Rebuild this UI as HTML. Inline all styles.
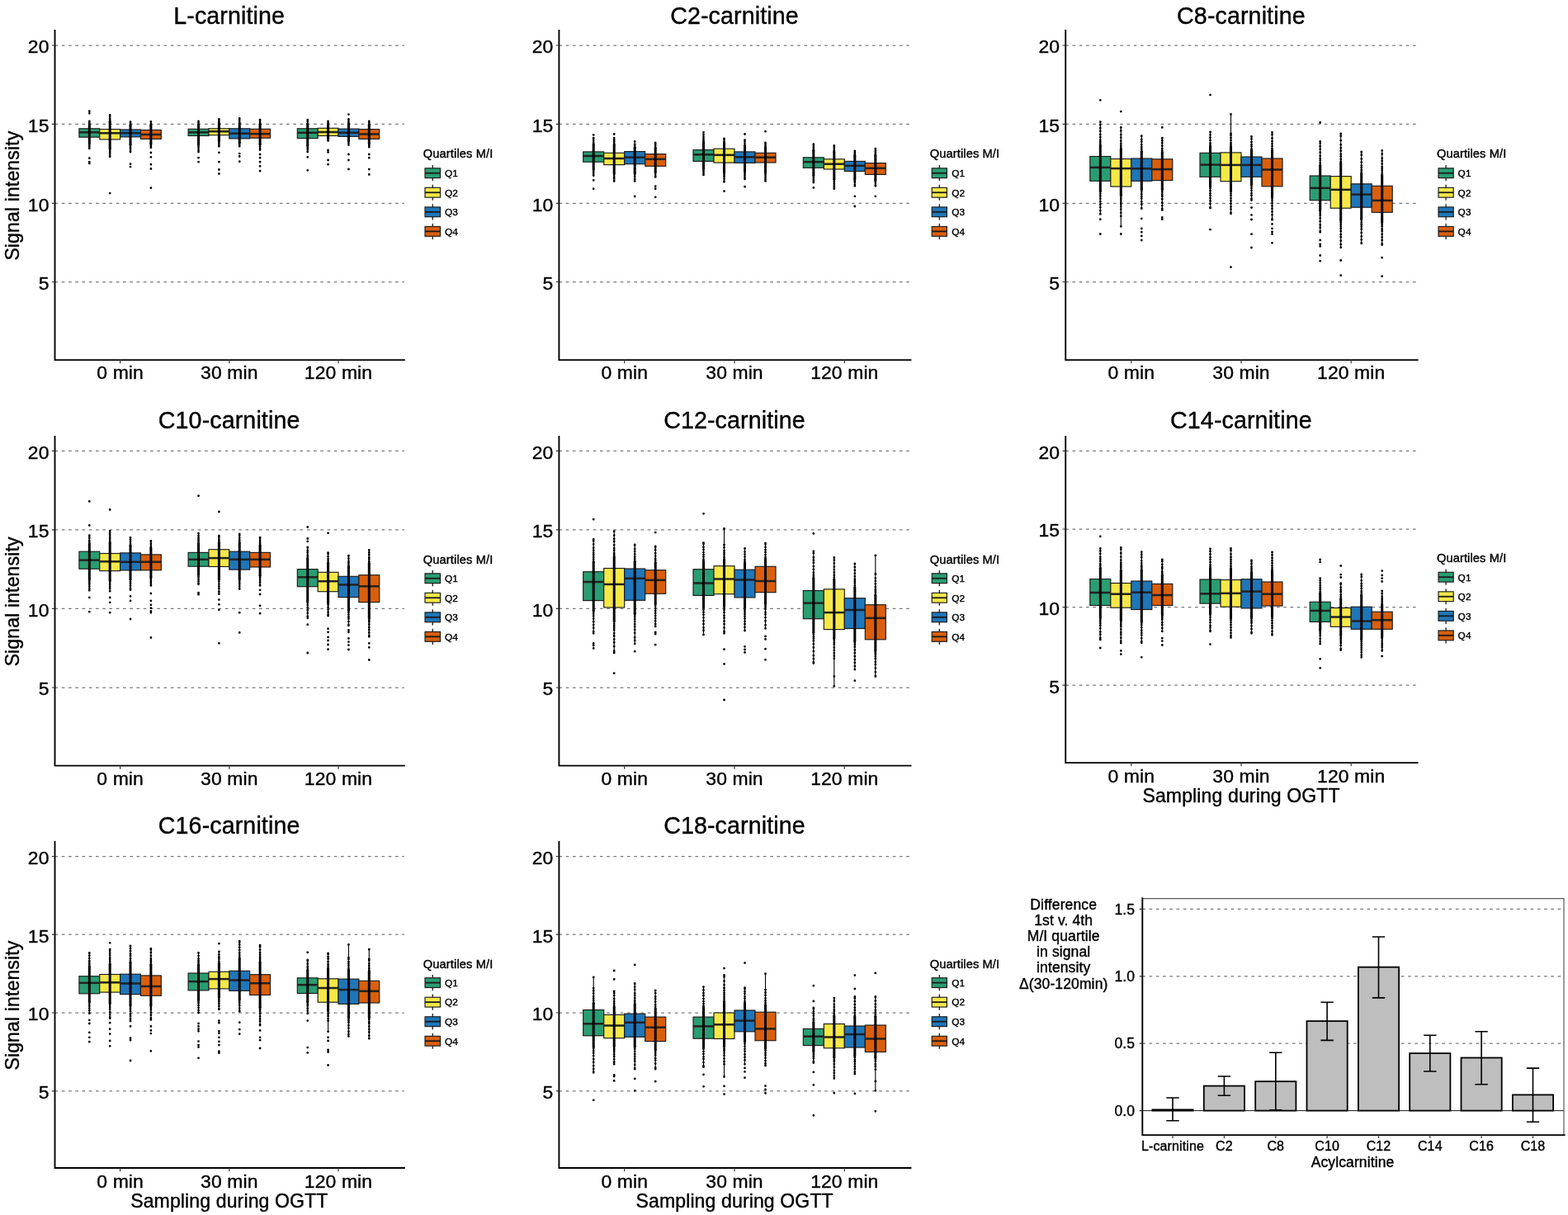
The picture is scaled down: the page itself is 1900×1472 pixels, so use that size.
<!DOCTYPE html>
<html lang="en">
<head>
<meta charset="utf-8">
<title>Acylcarnitine signal intensity during OGTT by M/I quartile</title>
<style>
html,body{margin:0;padding:0;background:#fff;}
body{width:1900px;height:1472px;overflow:hidden;}
svg{display:block;font-family:'Liberation Sans', Arial, Helvetica, sans-serif;fill:#000;}
text{stroke:#000;stroke-width:0.4px;stroke-linejoin:round;letter-spacing:0.12px;}
.grid{stroke:#7a7a7a;stroke-width:1.25;stroke-dasharray:3.7 4.55;fill:none;}
.axis{stroke:#000;stroke-width:1.9;fill:none;stroke-linecap:square;}
.tick{stroke:#333;stroke-width:1.2;fill:none;}
.bx{stroke:#1a1a1a;stroke-width:1.15;}
.md{stroke:#222;stroke-width:2.5;fill:none;}
.wh{stroke:#000;stroke-width:1.1;fill:none;}
.core{stroke:#000;fill:none;stroke-linecap:round;}
.dot{stroke:#000;stroke-width:2.8;fill:none;stroke-linecap:round;}
.kw{stroke:#1a1a1a;stroke-width:1.3;fill:none;}
.km{stroke:#1a1a1a;stroke-width:1.8;fill:none;}
.bar{fill:#bebebe;stroke:#000;stroke-width:1.8;}
.err{stroke:#000;stroke-width:1.6;fill:none;}
.zero{stroke:#000;stroke-width:0.9;fill:none;}
.frame{stroke:#5a5a5a;stroke-width:1.2;fill:none;}
</style>
</head>
<body>
<svg role="img" aria-label="Boxplots of acylcarnitine signal intensity during OGTT by quartiles of M/I, with bar chart of quartile differences" width="1900" height="1472" viewBox="0 0 1900 1472">
<rect width="1900" height="1472" fill="#fff"/>
<g>
<path d="M66.5 55H489.8M66.5 150.4H489.8M66.5 246.3H489.8M66.5 341.5H489.8" class="grid"/>
<rect x="95.9" y="155.8" width="24.85" height="10.4" fill="#2a9d73" class="bx"/>
<path d="M95.9 160.3H120.75" class="md"/>
<path d="M108.32 146.7V180" class="wh"/>
<path d="M108.32 150.75V173.6" class="core" stroke-width="3"/>
<path d="M108.32 150.75h0M108.32 148.76h0M108.32 146.9h0M108.32 173.6h0M108.32 175.9h0M108.32 177.8h0M108.32 179.8h0M108.32 134.7h0M108.32 137.3h0M108.32 191.7h0M108.32 196.2h0M108.32 197.9h0" class="dot"/>
<rect x="120.75" y="156.6" width="24.85" height="12.3" fill="#f6e848" class="bx"/>
<path d="M120.75 161.3H145.6" class="md"/>
<path d="M133.18 139.1V190" class="wh"/>
<path d="M133.18 147.35V179.95" class="core" stroke-width="3"/>
<path d="M133.18 147.35h0M133.18 145.32h0M133.18 143.43h0M133.18 140.87h0M133.18 139.3h0M133.18 179.95h0M133.18 182.04h0M133.18 183.94h0M133.18 186.04h0M133.18 188.74h0M133.18 189.8h0M133.18 234.1h0" class="dot"/>
<rect x="145.6" y="157" width="24.85" height="8.9" fill="#1f76b8" class="bx"/>
<path d="M145.6 161.2H170.45" class="md"/>
<path d="M158.03 147.5V184.3" class="wh"/>
<path d="M158.03 151.75V175.6" class="core" stroke-width="3"/>
<path d="M158.03 151.75h0M158.03 149.95h0M158.03 147.89h0M158.03 147.7h0M158.03 175.6h0M158.03 178.18h0M158.03 180.6h0M158.03 183.04h0M158.03 184.1h0M158.03 198.7h0M158.03 202.1h0" class="dot"/>
<rect x="170.45" y="157.5" width="24.85" height="10.9" fill="#d95f0c" class="bx"/>
<path d="M170.45 163H195.3" class="md"/>
<path d="M182.88 147.2V179" class="wh"/>
<path d="M182.88 151.85V174.2" class="core" stroke-width="3"/>
<path d="M182.88 151.85h0M182.88 150.13h0M182.88 147.41h0M182.88 147.4h0M182.88 174.2h0M182.88 176.02h0M182.88 177.97h0M182.88 178.8h0M182.88 185h0M182.88 190.3h0M182.88 199.2h0M182.88 204.5h0M182.88 227.7h0" class="dot"/>
<rect x="228.1" y="156.3" width="24.85" height="8.2" fill="#2a9d73" class="bx"/>
<path d="M228.1 160.3H252.95" class="md"/>
<path d="M240.53 146.7V184.3" class="wh"/>
<path d="M240.53 151V174.9" class="core" stroke-width="3"/>
<path d="M240.53 151h0M240.53 148.55h0M240.53 146.9h0M240.53 174.9h0M240.53 177.13h0M240.53 179.62h0M240.53 182.03h0M240.53 184.1h0M240.53 191.2h0M240.53 196.2h0" class="dot"/>
<rect x="252.95" y="155.8" width="24.85" height="7.9" fill="#f6e848" class="bx"/>
<path d="M252.95 159.2H277.8" class="md"/>
<path d="M265.38 144.2V177.5" class="wh"/>
<path d="M265.38 149.5V171.1" class="core" stroke-width="3"/>
<path d="M265.38 149.5h0M265.38 147.76h0M265.38 145.87h0M265.38 144.4h0M265.38 171.1h0M265.38 173.42h0M265.38 175.69h0M265.38 177.3h0M265.38 184.8h0M265.38 196.2h0M265.38 205.5h0M265.38 210.5h0" class="dot"/>
<rect x="277.8" y="155.8" width="24.85" height="12.1" fill="#1f76b8" class="bx"/>
<path d="M277.8 161.7H302.65" class="md"/>
<path d="M290.23 143.3V177.5" class="wh"/>
<path d="M290.23 149.05V173.2" class="core" stroke-width="3"/>
<path d="M290.23 149.05h0M290.23 146.82h0M290.23 144.52h0M290.23 143.5h0M290.23 173.2h0M290.23 175.63h0M290.23 177.3h0M290.23 186.1h0M290.23 189.5h0M290.23 195.7h0" class="dot"/>
<rect x="302.65" y="156.3" width="24.85" height="10.9" fill="#d95f0c" class="bx"/>
<path d="M302.65 162.2H327.5" class="md"/>
<path d="M315.08 145V181.7" class="wh"/>
<path d="M315.08 150.15V174.95" class="core" stroke-width="3"/>
<path d="M315.08 150.15h0M315.08 148.24h0M315.08 145.82h0M315.08 145.2h0M315.08 174.95h0M315.08 177.46h0M315.08 180.04h0M315.08 181.5h0M315.08 187h0M315.08 191.2h0M315.08 196.2h0M315.08 201.3h0M315.08 207.2h0" class="dot"/>
<rect x="360.3" y="155.8" width="24.85" height="11.8" fill="#2a9d73" class="bx"/>
<path d="M360.3 160.8H385.15" class="md"/>
<path d="M372.73 145V184.3" class="wh"/>
<path d="M372.73 149.9V176.45" class="core" stroke-width="3"/>
<path d="M372.73 149.9h0M372.73 147.29h0M372.73 145.34h0M372.73 145.2h0M372.73 176.45h0M372.73 178.85h0M372.73 180.83h0M372.73 183.38h0M372.73 184.1h0M372.73 190.3h0M372.73 206.3h0" class="dot"/>
<rect x="385.15" y="155.3" width="24.85" height="9.2" fill="#f6e848" class="bx"/>
<path d="M385.15 160H410" class="md"/>
<path d="M397.57 146.7V170.8" class="wh"/>
<path d="M397.57 150.5V168.15" class="core" stroke-width="3"/>
<path d="M397.57 150.5h0M397.57 148.19h0M397.57 146.9h0M397.57 168.15h0M397.57 170.37h0M397.57 170.6h0M397.57 181.9h0M397.57 184.4h0M397.57 194h0M397.57 199.2h0" class="dot"/>
<rect x="410" y="156.1" width="24.85" height="9.3" fill="#1f76b8" class="bx"/>
<path d="M410 160.8H434.85" class="md"/>
<path d="M422.43 144.2V175.8" class="wh"/>
<path d="M422.43 149.65V171.1" class="core" stroke-width="3"/>
<path d="M422.43 149.65h0M422.43 147.67h0M422.43 145.13h0M422.43 144.4h0M422.43 171.1h0M422.43 173.33h0M422.43 175.6h0M422.43 138.6h0M422.43 187h0M422.43 194h0M422.43 205h0" class="dot"/>
<rect x="434.85" y="156.6" width="24.85" height="11.8" fill="#d95f0c" class="bx"/>
<path d="M434.85 162.5H459.7" class="md"/>
<path d="M447.28 146.7V178.4" class="wh"/>
<path d="M447.28 151.15V173.9" class="core" stroke-width="3"/>
<path d="M447.28 151.15h0M447.28 148.68h0M447.28 146.9h0M447.28 173.9h0M447.28 176.03h0M447.28 178.2h0M447.28 187h0M447.28 191.2h0M447.28 205.1h0M447.28 211.4h0" class="dot"/>
<path d="M66.5 37V436.1H489.8" class="axis"/>
<path d="M66.5 55h-3.7M66.5 150.4h-3.7M66.5 246.3h-3.7M66.5 341.5h-3.7M145.6 436.1v4.2M277.8 436.1v4.2M410 436.1v4.2" class="tick"/>
<text x="59.5" y="64.3" font-size="22.9" text-anchor="end">20</text>
<text x="59.5" y="159.7" font-size="22.9" text-anchor="end">15</text>
<text x="59.5" y="255.6" font-size="22.9" text-anchor="end">10</text>
<text x="59.5" y="350.8" font-size="22.9" text-anchor="end">5</text>
<text x="145.6" y="459.4" font-size="22.9" text-anchor="middle">0 min</text>
<text x="277.8" y="459.4" font-size="22.9" text-anchor="middle">30 min</text>
<text x="410" y="459.4" font-size="22.9" text-anchor="middle">120 min</text>
<text x="277.65" y="28.8" font-size="28.6" text-anchor="middle">L-carnitine</text>
<text x="0" y="0" font-size="23.05" text-anchor="middle" transform="translate(23.2 237.15) rotate(-90)">Signal intensity</text>
<text x="512.8" y="191.3" font-size="14.65" text-anchor="start">Quartiles M/I</text>
<path d="M524.25 200.1V219.3" class="kw"/>
<rect x="515" y="203.8" width="18.5" height="11.8" fill="#2a9d73" class="bx"/>
<path d="M515 209.7H533.5" class="km"/>
<text x="539" y="214" font-size="11.8" text-anchor="start">Q1</text>
<path d="M524.25 223.65V242.85" class="kw"/>
<rect x="515" y="227.35" width="18.5" height="11.8" fill="#f6e848" class="bx"/>
<path d="M515 233.25H533.5" class="km"/>
<text x="539" y="237.55" font-size="11.8" text-anchor="start">Q2</text>
<path d="M524.25 247.2V266.4" class="kw"/>
<rect x="515" y="250.9" width="18.5" height="11.8" fill="#1f76b8" class="bx"/>
<path d="M515 256.8H533.5" class="km"/>
<text x="539" y="261.1" font-size="11.8" text-anchor="start">Q3</text>
<path d="M524.25 270.75V289.95" class="kw"/>
<rect x="515" y="274.45" width="18.5" height="11.8" fill="#d95f0c" class="bx"/>
<path d="M515 280.35H533.5" class="km"/>
<text x="539" y="284.65" font-size="11.8" text-anchor="start">Q4</text>
</g>
<g>
<path d="M677.4 55H1103.5M677.4 150.4H1103.5M677.4 246.3H1103.5M677.4 341.5H1103.5" class="grid"/>
<rect x="706.7" y="183.9" width="25" height="12.3" fill="#2a9d73" class="bx"/>
<path d="M706.7 189H731.7" class="md"/>
<path d="M719.2 166.9V212.9" class="wh"/>
<path d="M719.2 174.9V205.05" class="core" stroke-width="3"/>
<path d="M719.2 174.9h0M719.2 173.16h0M719.2 170.61h0M719.2 167.89h0M719.2 167.1h0M719.2 205.05h0M719.2 207.51h0M719.2 209.63h0M719.2 212.06h0M719.2 212.7h0M719.2 163.4h0M719.2 218.4h0M719.2 228.7h0" class="dot"/>
<rect x="731.7" y="185.3" width="25" height="14.3" fill="#f6e848" class="bx"/>
<path d="M731.7 192H756.7" class="md"/>
<path d="M744.2 166.9V219.6" class="wh"/>
<path d="M744.2 175.6V210.1" class="core" stroke-width="3"/>
<path d="M744.2 175.6h0M744.2 173.9h0M744.2 171.59h0M744.2 169.41h0M744.2 167.1h0M744.2 210.1h0M744.2 211.84h0M744.2 214.46h0M744.2 216.6h0M744.2 219.08h0M744.2 219.4h0M744.2 162.5h0" class="dot"/>
<rect x="756.7" y="183.6" width="25" height="15.1" fill="#1f76b8" class="bx"/>
<path d="M756.7 190.6H781.7" class="md"/>
<path d="M769.2 174.5V219.6" class="wh"/>
<path d="M769.2 178.55V209.65" class="core" stroke-width="3"/>
<path d="M769.2 178.55h0M769.2 176.05h0M769.2 174.7h0M769.2 209.65h0M769.2 211.75h0M769.2 214.15h0M769.2 217.14h0M769.2 219.4h0M769.2 171.5h0M769.2 238h0" class="dot"/>
<rect x="781.7" y="186.6" width="25" height="14.7" fill="#d95f0c" class="bx"/>
<path d="M781.7 192.8H806.7" class="md"/>
<path d="M794.2 172.8V214.6" class="wh"/>
<path d="M794.2 179.2V208.45" class="core" stroke-width="3"/>
<path d="M794.2 179.2h0M794.2 176.7h0M794.2 174.59h0M794.2 173h0M794.2 208.45h0M794.2 210.47h0M794.2 213.21h0M794.2 214.4h0M794.2 225.7h0M794.2 228.7h0M794.2 238.8h0" class="dot"/>
<rect x="840" y="181.6" width="25" height="13.8" fill="#2a9d73" class="bx"/>
<path d="M840 187.3H865" class="md"/>
<path d="M852.5 162.7V212.1" class="wh"/>
<path d="M852.5 171.65V204.25" class="core" stroke-width="3"/>
<path d="M852.5 171.65h0M852.5 169.83h0M852.5 167.81h0M852.5 165.56h0M852.5 163.1h0M852.5 162.9h0M852.5 204.25h0M852.5 206.49h0M852.5 208.59h0M852.5 210.59h0M852.5 211.9h0M852.5 160.3h0" class="dot"/>
<rect x="865" y="180.2" width="25" height="16.9" fill="#f6e848" class="bx"/>
<path d="M865 187.8H890" class="md"/>
<path d="M877.5 167.7V220.5" class="wh"/>
<path d="M877.5 173.45V209.3" class="core" stroke-width="3"/>
<path d="M877.5 173.45h0M877.5 171.42h0M877.5 169.01h0M877.5 167.9h0M877.5 209.3h0M877.5 211.63h0M877.5 213.99h0M877.5 216.68h0M877.5 219.69h0M877.5 220.3h0M877.5 231.6h0" class="dot"/>
<rect x="890" y="183.9" width="25" height="13.5" fill="#1f76b8" class="bx"/>
<path d="M890 190.3H915" class="md"/>
<path d="M902.5 169.4V217.1" class="wh"/>
<path d="M902.5 176.15V207.75" class="core" stroke-width="3"/>
<path d="M902.5 176.15h0M902.5 173.62h0M902.5 170.99h0M902.5 169.6h0M902.5 207.75h0M902.5 210.18h0M902.5 212.42h0M902.5 214.86h0M902.5 216.9h0M902.5 162.5h0M902.5 226.2h0" class="dot"/>
<rect x="915" y="185.3" width="25" height="11.7" fill="#d95f0c" class="bx"/>
<path d="M915 190.7H940" class="md"/>
<path d="M927.5 172.8V219.6" class="wh"/>
<path d="M927.5 178.55V208.8" class="core" stroke-width="3"/>
<path d="M927.5 178.55h0M927.5 176.27h0M927.5 174.38h0M927.5 173h0M927.5 208.8h0M927.5 210.68h0M927.5 212.68h0M927.5 215.05h0M927.5 217.29h0M927.5 219.4h0M927.5 159.2h0" class="dot"/>
<rect x="973.3" y="190.8" width="25" height="12.5" fill="#2a9d73" class="bx"/>
<path d="M973.3 196.2H998.3" class="md"/>
<path d="M985.8 174.5V221.3" class="wh"/>
<path d="M985.8 182.15V212.8" class="core" stroke-width="3"/>
<path d="M985.8 182.15h0M985.8 180.33h0M985.8 178.39h0M985.8 175.99h0M985.8 174.7h0M985.8 212.8h0M985.8 215.31h0M985.8 217.77h0M985.8 219.93h0M985.8 221.1h0M985.8 227.4h0" class="dot"/>
<rect x="998.3" y="192.8" width="25" height="12.2" fill="#f6e848" class="bx"/>
<path d="M998.3 198.7H1023.3" class="md"/>
<path d="M1010.8 176.2V228.9" class="wh"/>
<path d="M1010.8 184V217.45" class="core" stroke-width="3"/>
<path d="M1010.8 184h0M1010.8 181.99h0M1010.8 179.79h0M1010.8 177.65h0M1010.8 176.4h0M1010.8 217.45h0M1010.8 220.07h0M1010.8 222.38h0M1010.8 224.92h0M1010.8 227.2h0M1010.8 228.7h0" class="dot"/>
<rect x="1023.3" y="195.4" width="25" height="12.1" fill="#1f76b8" class="bx"/>
<path d="M1023.3 200.8H1048.3" class="md"/>
<path d="M1035.8 182.6V225.5" class="wh"/>
<path d="M1035.8 188.5V217" class="core" stroke-width="3"/>
<path d="M1035.8 188.5h0M1035.8 186.5h0M1035.8 184.39h0M1035.8 182.8h0M1035.8 217h0M1035.8 218.83h0M1035.8 220.69h0M1035.8 223.75h0M1035.8 225.3h0M1035.8 237.8h0M1035.8 250h0" class="dot"/>
<rect x="1048.3" y="197.6" width="25" height="13.8" fill="#d95f0c" class="bx"/>
<path d="M1048.3 203.8H1073.3" class="md"/>
<path d="M1060.8 179.9V225.5" class="wh"/>
<path d="M1060.8 188.25V218.95" class="core" stroke-width="3"/>
<path d="M1060.8 188.25h0M1060.8 186.43h0M1060.8 184.04h0M1060.8 182.01h0M1060.8 180.1h0M1060.8 218.95h0M1060.8 221.55h0M1060.8 224.28h0M1060.8 225.3h0M1060.8 237.8h0" class="dot"/>
<path d="M677.4 37V436.1H1103.5" class="axis"/>
<path d="M677.4 55h-3.7M677.4 150.4h-3.7M677.4 246.3h-3.7M677.4 341.5h-3.7M756.7 436.1v4.2M890 436.1v4.2M1023.3 436.1v4.2" class="tick"/>
<text x="670.4" y="64.3" font-size="22.9" text-anchor="end">20</text>
<text x="670.4" y="159.7" font-size="22.9" text-anchor="end">15</text>
<text x="670.4" y="255.6" font-size="22.9" text-anchor="end">10</text>
<text x="670.4" y="350.8" font-size="22.9" text-anchor="end">5</text>
<text x="756.7" y="459.4" font-size="22.9" text-anchor="middle">0 min</text>
<text x="890" y="459.4" font-size="22.9" text-anchor="middle">30 min</text>
<text x="1023.3" y="459.4" font-size="22.9" text-anchor="middle">120 min</text>
<text x="889.95" y="28.8" font-size="28.6" text-anchor="middle">C2-carnitine</text>
<text x="1126.7" y="191.3" font-size="14.65" text-anchor="start">Quartiles M/I</text>
<path d="M1138.3 200.1V219.3" class="kw"/>
<rect x="1129.2" y="203.8" width="18.2" height="11.8" fill="#2a9d73" class="bx"/>
<path d="M1129.2 209.7H1147.4" class="km"/>
<text x="1153.2" y="214" font-size="11.8" text-anchor="start">Q1</text>
<path d="M1138.3 223.65V242.85" class="kw"/>
<rect x="1129.2" y="227.35" width="18.2" height="11.8" fill="#f6e848" class="bx"/>
<path d="M1129.2 233.25H1147.4" class="km"/>
<text x="1153.2" y="237.55" font-size="11.8" text-anchor="start">Q2</text>
<path d="M1138.3 247.2V266.4" class="kw"/>
<rect x="1129.2" y="250.9" width="18.2" height="11.8" fill="#1f76b8" class="bx"/>
<path d="M1129.2 256.8H1147.4" class="km"/>
<text x="1153.2" y="261.1" font-size="11.8" text-anchor="start">Q3</text>
<path d="M1138.3 270.75V289.95" class="kw"/>
<rect x="1129.2" y="274.45" width="18.2" height="11.8" fill="#d95f0c" class="bx"/>
<path d="M1129.2 280.35H1147.4" class="km"/>
<text x="1153.2" y="284.65" font-size="11.8" text-anchor="start">Q4</text>
</g>
<g>
<path d="M1291.2 55H1717.6M1291.2 150.4H1717.6M1291.2 246.3H1717.6M1291.2 341.5H1717.6" class="grid"/>
<rect x="1320.8" y="189.5" width="25" height="29.8" fill="#2a9d73" class="bx"/>
<path d="M1320.8 202.9H1345.8" class="md"/>
<path d="M1333.3 147.5V259.6" class="wh"/>
<path d="M1333.3 176.6V231.69" class="core" stroke-width="3"/>
<path d="M1333.3 176.6h0M1333.3 174.49h0M1333.3 172.07h0M1333.3 169.68h0M1333.3 166.26h0M1333.3 162.89h0M1333.3 158.81h0M1333.3 155.16h0M1333.3 151.37h0M1333.3 147.7h0M1333.3 231.69h0M1333.3 234.55h0M1333.3 237.52h0M1333.3 240.69h0M1333.3 244.17h0M1333.3 247.85h0M1333.3 251.04h0M1333.3 255.03h0M1333.3 259.07h0M1333.3 259.4h0M1333.3 121.3h0M1333.3 265.7h0M1333.3 283.5h0" class="dot"/>
<rect x="1345.8" y="192.5" width="25" height="33.5" fill="#f6e848" class="bx"/>
<path d="M1345.8 204.1H1370.8" class="md"/>
<path d="M1358.3 154.3V274.5" class="wh"/>
<path d="M1358.3 180.74V237.1" class="core" stroke-width="3"/>
<path d="M1358.3 180.74h0M1358.3 178.87h0M1358.3 176.55h0M1358.3 174.05h0M1358.3 170.73h0M1358.3 166.74h0M1358.3 163.2h0M1358.3 158.48h0M1358.3 154.5h0M1358.3 237.1h0M1358.3 239.93h0M1358.3 242.35h0M1358.3 244.8h0M1358.3 247.49h0M1358.3 250.37h0M1358.3 253.53h0M1358.3 257.7h0M1358.3 261.8h0M1358.3 274.3h0M1358.3 135.1h0M1358.3 283.5h0" class="dot"/>
<rect x="1370.8" y="192" width="25" height="27.3" fill="#1f76b8" class="bx"/>
<path d="M1370.8 204.3H1395.8" class="md"/>
<path d="M1383.3 164.4V252.9" class="wh"/>
<path d="M1383.3 183.42V229.68" class="core" stroke-width="3"/>
<path d="M1383.3 183.42h0M1383.3 180.71h0M1383.3 178.16h0M1383.3 175.17h0M1383.3 171.72h0M1383.3 169h0M1383.3 165.12h0M1383.3 164.6h0M1383.3 229.68h0M1383.3 232.33h0M1383.3 235.18h0M1383.3 237.96h0M1383.3 240.58h0M1383.3 244.33h0M1383.3 247.69h0M1383.3 252.16h0M1383.3 252.7h0M1383.3 264.8h0M1383.3 276.8h0M1383.3 281.2h0M1383.3 285.9h0M1383.3 291h0" class="dot"/>
<rect x="1395.8" y="192.8" width="25" height="25.8" fill="#d95f0c" class="bx"/>
<path d="M1395.8 205.1H1420.8" class="md"/>
<path d="M1408.3 166.9V254.6" class="wh"/>
<path d="M1408.3 184.73V229.7" class="core" stroke-width="3"/>
<path d="M1408.3 184.73h0M1408.3 182.48h0M1408.3 180.02h0M1408.3 176.67h0M1408.3 173.32h0M1408.3 170.47h0M1408.3 167.44h0M1408.3 167.1h0M1408.3 229.7h0M1408.3 232.48h0M1408.3 235.39h0M1408.3 237.76h0M1408.3 241.25h0M1408.3 245.28h0M1408.3 249.16h0M1408.3 252.85h0M1408.3 254.4h0M1408.3 154.4h0M1408.3 263.3h0M1408.3 265.7h0" class="dot"/>
<rect x="1454" y="185.3" width="25" height="29" fill="#2a9d73" class="bx"/>
<path d="M1454 199.6H1479" class="md"/>
<path d="M1466.5 159.8V252.2" class="wh"/>
<path d="M1466.5 177.35V225.97" class="core" stroke-width="3"/>
<path d="M1466.5 177.35h0M1466.5 175.37h0M1466.5 173.35h0M1466.5 169.97h0M1466.5 166.72h0M1466.5 163.35h0M1466.5 160h0M1466.5 225.97h0M1466.5 228.26h0M1466.5 231.25h0M1466.5 234.45h0M1466.5 237.12h0M1466.5 240.08h0M1466.5 243.38h0M1466.5 246.88h0M1466.5 251.36h0M1466.5 252h0M1466.5 114.9h0M1466.5 278.1h0" class="dot"/>
<rect x="1479" y="184.9" width="25" height="34.8" fill="#f6e848" class="bx"/>
<path d="M1479 199.9H1504" class="md"/>
<path d="M1491.5 138.3V259" class="wh"/>
<path d="M1491.5 177.61V231.79" class="core" stroke-width="3"/>
<path d="M1491.5 177.61h0M1491.5 175.34h0M1491.5 173.18h0M1491.5 169.88h0M1491.5 167.02h0M1491.5 163.75h0M1491.5 161.8h0M1491.5 231.79h0M1491.5 234.57h0M1491.5 237.05h0M1491.5 240.36h0M1491.5 243.42h0M1491.5 246.79h0M1491.5 250.45h0M1491.5 253.57h0M1491.5 257.77h0M1491.5 258.8h0M1491.5 138.5h0M1491.5 323.6h0" class="dot"/>
<rect x="1504" y="190" width="25" height="24.3" fill="#1f76b8" class="bx"/>
<path d="M1504 199.9H1529" class="md"/>
<path d="M1516.5 165.2V242.8" class="wh"/>
<path d="M1516.5 182.26V223.15" class="core" stroke-width="3"/>
<path d="M1516.5 182.26h0M1516.5 180.42h0M1516.5 177.51h0M1516.5 175.11h0M1516.5 172.09h0M1516.5 168.44h0M1516.5 165.4h0M1516.5 223.15h0M1516.5 225.33h0M1516.5 227.92h0M1516.5 230.79h0M1516.5 234.22h0M1516.5 236.97h0M1516.5 240.7h0M1516.5 242.6h0M1516.5 251.5h0M1516.5 260.4h0M1516.5 266h0M1516.5 283.7h0M1516.5 300h0" class="dot"/>
<rect x="1529" y="192" width="25" height="33.8" fill="#d95f0c" class="bx"/>
<path d="M1529 205.5H1554" class="md"/>
<path d="M1541.5 160.2V266.4" class="wh"/>
<path d="M1541.5 182.16V238.28" class="core" stroke-width="3"/>
<path d="M1541.5 182.16h0M1541.5 180.03h0M1541.5 177.16h0M1541.5 174.35h0M1541.5 171.21h0M1541.5 167.5h0M1541.5 163.22h0M1541.5 160.4h0M1541.5 238.28h0M1541.5 240.75h0M1541.5 243.33h0M1541.5 246.15h0M1541.5 249.46h0M1541.5 252.72h0M1541.5 256.4h0M1541.5 260.31h0M1541.5 265.46h0M1541.5 266.2h0M1541.5 271.4h0M1541.5 276.8h0M1541.5 280.8h0M1541.5 283.5h0M1541.5 294.3h0" class="dot"/>
<rect x="1587.2" y="213" width="25" height="29.7" fill="#2a9d73" class="bx"/>
<path d="M1587.2 227.8H1612.2" class="md"/>
<path d="M1599.7 171.1V281.5" class="wh"/>
<path d="M1599.7 200.13V254.64" class="core" stroke-width="3"/>
<path d="M1599.7 200.13h0M1599.7 197.38h0M1599.7 194.31h0M1599.7 191.81h0M1599.7 188.68h0M1599.7 184.7h0M1599.7 180.53h0M1599.7 177.21h0M1599.7 173.61h0M1599.7 171.3h0M1599.7 254.64h0M1599.7 256.56h0M1599.7 258.83h0M1599.7 261.11h0M1599.7 264.39h0M1599.7 268.13h0M1599.7 272.39h0M1599.7 275.74h0M1599.7 280.46h0M1599.7 281.3h0M1599.7 148.5h0M1599.7 290.9h0M1599.7 296h0M1599.7 298.4h0M1599.7 309.5h0M1599.7 316.2h0" class="dot"/>
<rect x="1612.2" y="213.6" width="25" height="38.6" fill="#f6e848" class="bx"/>
<path d="M1612.2 229.8H1637.2" class="md"/>
<path d="M1624.7 161.8V300" class="wh"/>
<path d="M1624.7 197.76V266.84" class="core" stroke-width="3"/>
<path d="M1624.7 197.76h0M1624.7 195.77h0M1624.7 192.77h0M1624.7 189.39h0M1624.7 186.72h0M1624.7 182.73h0M1624.7 179.26h0M1624.7 175.33h0M1624.7 170.1h0M1624.7 164.71h0M1624.7 162h0M1624.7 266.84h0M1624.7 269.13h0M1624.7 271.71h0M1624.7 274.32h0M1624.7 276.96h0M1624.7 280.02h0M1624.7 284.01h0M1624.7 287.13h0M1624.7 291.54h0M1624.7 296.11h0M1624.7 299.8h0M1624.7 315.5h0M1624.7 333.7h0" class="dot"/>
<rect x="1637.2" y="222.8" width="25" height="28.4" fill="#1f76b8" class="bx"/>
<path d="M1637.2 235.6H1662.2" class="md"/>
<path d="M1649.7 183.7V295" class="wh"/>
<path d="M1649.7 210.77V264.64" class="core" stroke-width="3"/>
<path d="M1649.7 210.77h0M1649.7 208.59h0M1649.7 205.88h0M1649.7 203.06h0M1649.7 200.59h0M1649.7 196.56h0M1649.7 192.47h0M1649.7 187.7h0M1649.7 184.13h0M1649.7 183.9h0M1649.7 264.64h0M1649.7 266.52h0M1649.7 269.41h0M1649.7 271.92h0M1649.7 274.48h0M1649.7 277.69h0M1649.7 281.98h0M1649.7 286.48h0M1649.7 290.34h0M1649.7 294.31h0M1649.7 294.8h0" class="dot"/>
<rect x="1662.2" y="225.3" width="25" height="32" fill="#d95f0c" class="bx"/>
<path d="M1662.2 242.9H1687.2" class="md"/>
<path d="M1674.7 182.1V296.7" class="wh"/>
<path d="M1674.7 212.04V269.42" class="core" stroke-width="3"/>
<path d="M1674.7 212.04h0M1674.7 209.61h0M1674.7 206.81h0M1674.7 204.52h0M1674.7 202.06h0M1674.7 198.45h0M1674.7 194.95h0M1674.7 191.73h0M1674.7 186.6h0M1674.7 182.3h0M1674.7 269.42h0M1674.7 272.09h0M1674.7 274.19h0M1674.7 277.43h0M1674.7 279.9h0M1674.7 283.76h0M1674.7 287.31h0M1674.7 290.99h0M1674.7 295.4h0M1674.7 296.5h0M1674.7 312.2h0M1674.7 334.7h0" class="dot"/>
<path d="M1291.2 37V436.1H1717.6" class="axis"/>
<path d="M1291.2 55h-3.7M1291.2 150.4h-3.7M1291.2 246.3h-3.7M1291.2 341.5h-3.7M1370.8 436.1v4.2M1504 436.1v4.2M1637.2 436.1v4.2" class="tick"/>
<text x="1284.2" y="64.3" font-size="22.9" text-anchor="end">20</text>
<text x="1284.2" y="159.7" font-size="22.9" text-anchor="end">15</text>
<text x="1284.2" y="255.6" font-size="22.9" text-anchor="end">10</text>
<text x="1284.2" y="350.8" font-size="22.9" text-anchor="end">5</text>
<text x="1370.8" y="459.4" font-size="22.9" text-anchor="middle">0 min</text>
<text x="1504" y="459.4" font-size="22.9" text-anchor="middle">30 min</text>
<text x="1637.2" y="459.4" font-size="22.9" text-anchor="middle">120 min</text>
<text x="1503.9" y="28.8" font-size="28.6" text-anchor="middle">C8-carnitine</text>
<text x="1740.9" y="191.3" font-size="14.65" text-anchor="start">Quartiles M/I</text>
<path d="M1752.1 200.1V219.3" class="kw"/>
<rect x="1743" y="203.8" width="18.2" height="11.8" fill="#2a9d73" class="bx"/>
<path d="M1743 209.7H1761.2" class="km"/>
<text x="1766.6" y="214" font-size="11.8" text-anchor="start">Q1</text>
<path d="M1752.1 223.65V242.85" class="kw"/>
<rect x="1743" y="227.35" width="18.2" height="11.8" fill="#f6e848" class="bx"/>
<path d="M1743 233.25H1761.2" class="km"/>
<text x="1766.6" y="237.55" font-size="11.8" text-anchor="start">Q2</text>
<path d="M1752.1 247.2V266.4" class="kw"/>
<rect x="1743" y="250.9" width="18.2" height="11.8" fill="#1f76b8" class="bx"/>
<path d="M1743 256.8H1761.2" class="km"/>
<text x="1766.6" y="261.1" font-size="11.8" text-anchor="start">Q3</text>
<path d="M1752.1 270.75V289.95" class="kw"/>
<rect x="1743" y="274.45" width="18.2" height="11.8" fill="#d95f0c" class="bx"/>
<path d="M1743 280.35H1761.2" class="km"/>
<text x="1766.6" y="284.65" font-size="11.8" text-anchor="start">Q4</text>
</g>
<g>
<path d="M66.5 546.4H489.8M66.5 641.8H489.8M66.5 737.4H489.8M66.5 833H489.8" class="grid"/>
<rect x="95.9" y="668.2" width="24.85" height="21" fill="#2a9d73" class="bx"/>
<path d="M95.9 678.6H120.75" class="md"/>
<path d="M108.32 648.5V715.5" class="wh"/>
<path d="M108.32 658.88V701.49" class="core" stroke-width="3"/>
<path d="M108.32 658.88h0M108.32 656.86h0M108.32 654.8h0M108.32 652.09h0M108.32 649.51h0M108.32 648.7h0M108.32 701.49h0M108.32 703.4h0M108.32 705.38h0M108.32 707.71h0M108.32 710.39h0M108.32 713.3h0M108.32 715.3h0M108.32 607.4h0M108.32 636.5h0M108.32 723.9h0M108.32 741.2h0" class="dot"/>
<rect x="120.75" y="670.5" width="24.85" height="21.1" fill="#f6e848" class="bx"/>
<path d="M120.75 680.3H145.6" class="md"/>
<path d="M133.18 643.1V716.4" class="wh"/>
<path d="M133.18 657.72V703.21" class="core" stroke-width="3"/>
<path d="M133.18 657.72h0M133.18 655.67h0M133.18 653.21h0M133.18 650.91h0M133.18 648.19h0M133.18 645.68h0M133.18 643.3h0M133.18 703.21h0M133.18 704.99h0M133.18 707.69h0M133.18 710.43h0M133.18 712.96h0M133.18 716.1h0M133.18 716.2h0M133.18 617.5h0M133.18 724h0M133.18 729.8h0M133.18 742.2h0" class="dot"/>
<rect x="145.6" y="669.9" width="24.85" height="21" fill="#1f76b8" class="bx"/>
<path d="M145.6 680.8H170.45" class="md"/>
<path d="M158.03 651V714.7" class="wh"/>
<path d="M158.03 660.94V702.06" class="core" stroke-width="3"/>
<path d="M158.03 660.94h0M158.03 659.08h0M158.03 656.28h0M158.03 653.68h0M158.03 651.2h0M158.03 702.06h0M158.03 704.65h0M158.03 706.99h0M158.03 709.68h0M158.03 712.84h0M158.03 714.5h0M158.03 722.4h0M158.03 727.8h0M158.03 750h0" class="dot"/>
<rect x="170.45" y="671.9" width="24.85" height="18.9" fill="#d95f0c" class="bx"/>
<path d="M170.45 680.8H195.3" class="md"/>
<path d="M182.88 655.2V709.6" class="wh"/>
<path d="M182.88 663.94V699.71" class="core" stroke-width="3"/>
<path d="M182.88 663.94h0M182.88 661.84h0M182.88 659.02h0M182.88 656.1h0M182.88 655.4h0M182.88 699.71h0M182.88 701.87h0M182.88 704.16h0M182.88 706.32h0M182.88 708.76h0M182.88 709.4h0M182.88 719h0M182.88 727.8h0M182.88 732.8h0M182.88 736.7h0M182.88 740.5h0M182.88 742.2h0M182.88 772.5h0" class="dot"/>
<rect x="228.1" y="669.4" width="24.85" height="16.8" fill="#2a9d73" class="bx"/>
<path d="M228.1 677.8H252.95" class="md"/>
<path d="M240.53 646V708" class="wh"/>
<path d="M240.53 658.42V696.46" class="core" stroke-width="3"/>
<path d="M240.53 658.42h0M240.53 655.93h0M240.53 653.73h0M240.53 651.45h0M240.53 649.06h0M240.53 646.2h0M240.53 696.46h0M240.53 699.08h0M240.53 701.72h0M240.53 704.15h0M240.53 706.74h0M240.53 707.8h0M240.53 600.7h0M240.53 718.2h0M240.53 720.2h0" class="dot"/>
<rect x="252.95" y="665.7" width="24.85" height="20.8" fill="#f6e848" class="bx"/>
<path d="M252.95 676.1H277.8" class="md"/>
<path d="M265.38 649V719.7" class="wh"/>
<path d="M265.38 657.74V701.89" class="core" stroke-width="3"/>
<path d="M265.38 657.74h0M265.38 655.52h0M265.38 653.43h0M265.38 650.82h0M265.38 649.2h0M265.38 701.89h0M265.38 704.6h0M265.38 707.57h0M265.38 710.3h0M265.38 712.9h0M265.38 716.73h0M265.38 719.5h0M265.38 620h0M265.38 726.6h0M265.38 732.3h0M265.38 738.8h0M265.38 779.3h0" class="dot"/>
<rect x="277.8" y="668.2" width="24.85" height="21.9" fill="#1f76b8" class="bx"/>
<path d="M277.8 677.8H302.65" class="md"/>
<path d="M290.23 646.8V713.8" class="wh"/>
<path d="M290.23 658.12V701.22" class="core" stroke-width="3"/>
<path d="M290.23 658.12h0M290.23 656.01h0M290.23 654.09h0M290.23 651.55h0M290.23 648.66h0M290.23 647h0M290.23 701.22h0M290.23 703.17h0M290.23 705.64h0M290.23 707.73h0M290.23 710.35h0M290.23 712.96h0M290.23 713.6h0M290.23 742.2h0M290.23 766.4h0" class="dot"/>
<rect x="302.65" y="669.4" width="24.85" height="17.6" fill="#d95f0c" class="bx"/>
<path d="M302.65 677.8H327.5" class="md"/>
<path d="M315.08 651V709.6" class="wh"/>
<path d="M315.08 660.67V697.62" class="core" stroke-width="3"/>
<path d="M315.08 660.67h0M315.08 658.87h0M315.08 656.93h0M315.08 654.48h0M315.08 651.9h0M315.08 651.2h0M315.08 697.62h0M315.08 699.9h0M315.08 702.63h0M315.08 705.5h0M315.08 708.69h0M315.08 709.4h0M315.08 714.8h0M315.08 720h0M315.08 733.8h0M315.08 743.2h0" class="dot"/>
<rect x="360.3" y="689.6" width="24.85" height="21.1" fill="#2a9d73" class="bx"/>
<path d="M360.3 699.3H385.15" class="md"/>
<path d="M372.73 662.8V749" class="wh"/>
<path d="M372.73 677.09V728.38" class="core" stroke-width="3"/>
<path d="M372.73 677.09h0M372.73 674.94h0M372.73 672.67h0M372.73 669.42h0M372.73 666.95h0M372.73 663.46h0M372.73 663h0M372.73 728.38h0M372.73 730.19h0M372.73 733.01h0M372.73 736.15h0M372.73 739.23h0M372.73 742.74h0M372.73 746.69h0M372.73 748.8h0M372.73 638.5h0M372.73 652.5h0M372.73 655.9h0M372.73 756.7h0M372.73 791h0" class="dot"/>
<rect x="385.15" y="693.3" width="24.85" height="23.4" fill="#f6e848" class="bx"/>
<path d="M385.15 704.2H410" class="md"/>
<path d="M397.57 669.5V746.3" class="wh"/>
<path d="M397.57 682.14V730.47" class="core" stroke-width="3"/>
<path d="M397.57 682.14h0M397.57 679.86h0M397.57 677.4h0M397.57 674.33h0M397.57 671.01h0M397.57 669.7h0M397.57 730.47h0M397.57 732.81h0M397.57 735.69h0M397.57 738.58h0M397.57 741.75h0M397.57 744.56h0M397.57 746.1h0M397.57 645.8h0M397.57 761.7h0M397.57 765.8h0M397.57 771.9h0M397.57 775.9h0M397.57 781h0M397.57 786.7h0" class="dot"/>
<rect x="410" y="698.3" width="24.85" height="25.3" fill="#1f76b8" class="bx"/>
<path d="M410 708.4H434.85" class="md"/>
<path d="M422.43 672.9V758" class="wh"/>
<path d="M422.43 686.42V739.53" class="core" stroke-width="3"/>
<path d="M422.43 686.42h0M422.43 684.53h0M422.43 682.22h0M422.43 680.01h0M422.43 676.66h0M422.43 673.39h0M422.43 673.1h0M422.43 739.53h0M422.43 741.91h0M422.43 744.56h0M422.43 747.23h0M422.43 749.51h0M422.43 753.11h0M422.43 756.96h0M422.43 757.8h0M422.43 763.4h0M422.43 765.8h0M422.43 773.5h0M422.43 777.6h0M422.43 781.6h0M422.43 787h0" class="dot"/>
<rect x="434.85" y="696.7" width="24.85" height="32.9" fill="#d95f0c" class="bx"/>
<path d="M434.85 710.3H459.7" class="md"/>
<path d="M447.28 666.2V771.5" class="wh"/>
<path d="M447.28 682.53V748.9" class="core" stroke-width="3"/>
<path d="M447.28 682.53h0M447.28 680.24h0M447.28 677.61h0M447.28 675.44h0M447.28 672.21h0M447.28 669.38h0M447.28 666.55h0M447.28 666.4h0M447.28 748.9h0M447.28 751.39h0M447.28 753.53h0M447.28 756.49h0M447.28 760.02h0M447.28 763.19h0M447.28 766.48h0M447.28 770.23h0M447.28 771.3h0M447.28 779.3h0M447.28 784.3h0M447.28 799.5h0" class="dot"/>
<path d="M66.5 529V927.6H489.8" class="axis"/>
<path d="M66.5 546.4h-3.7M66.5 641.8h-3.7M66.5 737.4h-3.7M66.5 833h-3.7M145.6 927.6v4.2M277.8 927.6v4.2M410 927.6v4.2" class="tick"/>
<text x="59.5" y="555.7" font-size="22.9" text-anchor="end">20</text>
<text x="59.5" y="651.1" font-size="22.9" text-anchor="end">15</text>
<text x="59.5" y="746.7" font-size="22.9" text-anchor="end">10</text>
<text x="59.5" y="842.3" font-size="22.9" text-anchor="end">5</text>
<text x="145.6" y="950.9" font-size="22.9" text-anchor="middle">0 min</text>
<text x="277.8" y="950.9" font-size="22.9" text-anchor="middle">30 min</text>
<text x="410" y="950.9" font-size="22.9" text-anchor="middle">120 min</text>
<text x="277.65" y="518.8" font-size="28.6" text-anchor="middle">C10-carnitine</text>
<text x="0" y="0" font-size="23.05" text-anchor="middle" transform="translate(23.2 728.9) rotate(-90)">Signal intensity</text>
<text x="512.8" y="683" font-size="14.65" text-anchor="start">Quartiles M/I</text>
<path d="M524.25 691.1V710.3" class="kw"/>
<rect x="515" y="694.8" width="18.5" height="11.8" fill="#2a9d73" class="bx"/>
<path d="M515 700.7H533.5" class="km"/>
<text x="539" y="705" font-size="11.8" text-anchor="start">Q1</text>
<path d="M524.25 714.65V733.85" class="kw"/>
<rect x="515" y="718.35" width="18.5" height="11.8" fill="#f6e848" class="bx"/>
<path d="M515 724.25H533.5" class="km"/>
<text x="539" y="728.55" font-size="11.8" text-anchor="start">Q2</text>
<path d="M524.25 738.2V757.4" class="kw"/>
<rect x="515" y="741.9" width="18.5" height="11.8" fill="#1f76b8" class="bx"/>
<path d="M515 747.8H533.5" class="km"/>
<text x="539" y="752.1" font-size="11.8" text-anchor="start">Q3</text>
<path d="M524.25 761.75V780.95" class="kw"/>
<rect x="515" y="765.45" width="18.5" height="11.8" fill="#d95f0c" class="bx"/>
<path d="M515 771.35H533.5" class="km"/>
<text x="539" y="775.65" font-size="11.8" text-anchor="start">Q4</text>
</g>
<g>
<path d="M677.4 546.4H1103.5M677.4 641.8H1103.5M677.4 737.4H1103.5M677.4 833H1103.5" class="grid"/>
<rect x="706.7" y="692.7" width="25" height="34.9" fill="#2a9d73" class="bx"/>
<path d="M706.7 705H731.7" class="md"/>
<path d="M719.2 653.3V767.5" class="wh"/>
<path d="M719.2 680.58V739.87" class="core" stroke-width="3"/>
<path d="M719.2 680.58h0M719.2 677.95h0M719.2 675.24h0M719.2 672.27h0M719.2 669.78h0M719.2 666.97h0M719.2 663.73h0M719.2 659.36h0M719.2 655.42h0M719.2 653.5h0M719.2 739.87h0M719.2 741.72h0M719.2 743.8h0M719.2 746.31h0M719.2 749.6h0M719.2 753.21h0M719.2 757.11h0M719.2 760.7h0M719.2 765.04h0M719.2 767.3h0M719.2 629.2h0M719.2 779.5h0M719.2 782h0M719.2 785.4h0" class="dot"/>
<rect x="731.7" y="688.5" width="25" height="47.5" fill="#f6e848" class="bx"/>
<path d="M731.7 707.9H756.7" class="md"/>
<path d="M744.2 643.5V791.1" class="wh"/>
<path d="M744.2 674.7V752.83" class="core" stroke-width="3"/>
<path d="M744.2 674.7h0M744.2 672.38h0M744.2 670.24h0M744.2 666.95h0M744.2 664.3h0M744.2 660.28h0M744.2 655.95h0M744.2 652.84h0M744.2 648.61h0M744.2 643.7h0M744.2 752.83h0M744.2 755.67h0M744.2 758.18h0M744.2 760.7h0M744.2 763.37h0M744.2 767.34h0M744.2 770.51h0M744.2 774.61h0M744.2 778.24h0M744.2 782.98h0M744.2 788.64h0M744.2 790.9h0M744.2 815.7h0" class="dot"/>
<rect x="756.7" y="689" width="25" height="38.3" fill="#1f76b8" class="bx"/>
<path d="M756.7 700.8H781.7" class="md"/>
<path d="M769.2 659.7V780.2" class="wh"/>
<path d="M769.2 679.91V743.47" class="core" stroke-width="3"/>
<path d="M769.2 679.91h0M769.2 677.22h0M769.2 674.64h0M769.2 671.36h0M769.2 668.04h0M769.2 665.1h0M769.2 660.84h0M769.2 659.9h0M769.2 743.47h0M769.2 745.34h0M769.2 747.35h0M769.2 750.14h0M769.2 753.12h0M769.2 756.16h0M769.2 759.22h0M769.2 762.9h0M769.2 766.86h0M769.2 772.26h0M769.2 775.94h0M769.2 780h0M769.2 789.2h0" class="dot"/>
<rect x="781.7" y="690.7" width="25" height="28.6" fill="#d95f0c" class="bx"/>
<path d="M781.7 702.8H806.7" class="md"/>
<path d="M794.2 661.7V759.1" class="wh"/>
<path d="M794.2 681.7V731.54" class="core" stroke-width="3"/>
<path d="M794.2 681.7h0M794.2 678.99h0M794.2 676.85h0M794.2 673.53h0M794.2 670.19h0M794.2 666.27h0M794.2 662.98h0M794.2 661.9h0M794.2 731.54h0M794.2 733.79h0M794.2 736.92h0M794.2 739.83h0M794.2 742.7h0M794.2 745.92h0M794.2 749.19h0M794.2 752.36h0M794.2 755.91h0M794.2 758.9h0M794.2 645.1h0M794.2 766h0M794.2 768.2h0M794.2 781.2h0" class="dot"/>
<rect x="840" y="689.7" width="25" height="31.7" fill="#2a9d73" class="bx"/>
<path d="M840 706.5H865" class="md"/>
<path d="M852.5 657.5V769.2" class="wh"/>
<path d="M852.5 679.74V736.04" class="core" stroke-width="3"/>
<path d="M852.5 679.74h0M852.5 677.6h0M852.5 674.54h0M852.5 672.05h0M852.5 669.31h0M852.5 665.97h0M852.5 662.83h0M852.5 659.1h0M852.5 657.7h0M852.5 736.04h0M852.5 738.8h0M852.5 741.72h0M852.5 744.68h0M852.5 748.29h0M852.5 752.26h0M852.5 755.96h0M852.5 760.3h0M852.5 763.76h0M852.5 768.93h0M852.5 769h0M852.5 622.3h0" class="dot"/>
<rect x="865" y="685.7" width="25" height="34" fill="#f6e848" class="bx"/>
<path d="M865 701.5H890" class="md"/>
<path d="M877.5 640.2V767.5" class="wh"/>
<path d="M877.5 677.69V734.34" class="core" stroke-width="3"/>
<path d="M877.5 677.69h0M877.5 675.07h0M877.5 672.34h0M877.5 669.8h0M877.5 667.35h0M877.5 663.4h0M877.5 660.37h0M877.5 660.2h0M877.5 734.34h0M877.5 736.54h0M877.5 738.88h0M877.5 741.97h0M877.5 745.66h0M877.5 748.64h0M877.5 752.52h0M877.5 756.12h0M877.5 760.54h0M877.5 765.02h0M877.5 767.3h0M877.5 640.4h0M877.5 786.7h0M877.5 804.4h0M877.5 848h0" class="dot"/>
<rect x="890" y="690.2" width="25" height="33.7" fill="#1f76b8" class="bx"/>
<path d="M890 702.5H915" class="md"/>
<path d="M902.5 664.3V764.2" class="wh"/>
<path d="M902.5 682.13V736.29" class="core" stroke-width="3"/>
<path d="M902.5 682.13h0M902.5 680.12h0M902.5 677.88h0M902.5 674.58h0M902.5 671.53h0M902.5 668.61h0M902.5 664.5h0M902.5 736.29h0M902.5 739.16h0M902.5 741.67h0M902.5 744.03h0M902.5 746.67h0M902.5 749.4h0M902.5 752.78h0M902.5 756.02h0M902.5 759.84h0M902.5 764h0M902.5 783.3h0M902.5 787h0M902.5 790.4h0" class="dot"/>
<rect x="915" y="686.3" width="25" height="31.4" fill="#d95f0c" class="bx"/>
<path d="M915 704H940" class="md"/>
<path d="M927.5 658V761.6" class="wh"/>
<path d="M927.5 677.51V731.17" class="core" stroke-width="3"/>
<path d="M927.5 677.51h0M927.5 675.08h0M927.5 672.07h0M927.5 668.97h0M927.5 666.03h0M927.5 662.83h0M927.5 659.16h0M927.5 658.2h0M927.5 731.17h0M927.5 733.36h0M927.5 735.44h0M927.5 737.96h0M927.5 741.64h0M927.5 744.42h0M927.5 748.06h0M927.5 752.24h0M927.5 757.23h0M927.5 761.34h0M927.5 761.4h0M927.5 771h0M927.5 774.4h0M927.5 786.2h0M927.5 799.3h0" class="dot"/>
<rect x="973.3" y="715.5" width="25" height="34.2" fill="#2a9d73" class="bx"/>
<path d="M973.3 730.6H998.3" class="md"/>
<path d="M985.8 667.6V803.7" class="wh"/>
<path d="M985.8 700.83V766.2" class="core" stroke-width="3"/>
<path d="M985.8 700.83h0M985.8 698.73h0M985.8 696.28h0M985.8 693.54h0M985.8 689.88h0M985.8 686.04h0M985.8 681.82h0M985.8 678.7h0M985.8 675.27h0M985.8 670.14h0M985.8 667.8h0M985.8 766.2h0M985.8 768.53h0M985.8 771.2h0M985.8 773.38h0M985.8 776.29h0M985.8 780.24h0M985.8 784.39h0M985.8 788.96h0M985.8 794.16h0M985.8 798.34h0M985.8 802.25h0M985.8 803.5h0M985.8 646.4h0" class="dot"/>
<rect x="998.3" y="713.8" width="25" height="48.8" fill="#f6e848" class="bx"/>
<path d="M998.3 742.1H1023.3" class="md"/>
<path d="M1010.8 675.2V831.5" class="wh"/>
<path d="M1010.8 701.92V773.52" class="core" stroke-width="3"/>
<path d="M1010.8 701.92h0M1010.8 699.54h0M1010.8 696.76h0M1010.8 693.42h0M1010.8 690.07h0M1010.8 686.53h0M1010.8 682.48h0M1010.8 678.6h0M1010.8 675.4h0M1010.8 773.52h0M1010.8 775.4h0M1010.8 778.29h0M1010.8 780.76h0M1010.8 784.38h0M1010.8 787.92h0M1010.8 791.23h0M1010.8 794.54h0M1010.8 797.8h0M1010.8 831.3h0M1010.8 819.4h0" class="dot"/>
<rect x="1023.3" y="724.7" width="25" height="36.8" fill="#1f76b8" class="bx"/>
<path d="M1023.3 739H1048.3" class="md"/>
<path d="M1035.8 682.8V811.3" class="wh"/>
<path d="M1035.8 711.83V776.74" class="core" stroke-width="3"/>
<path d="M1035.8 711.83h0M1035.8 709.33h0M1035.8 706.54h0M1035.8 704.21h0M1035.8 701.74h0M1035.8 698.37h0M1035.8 694.61h0M1035.8 690.85h0M1035.8 687.07h0M1035.8 683h0M1035.8 776.74h0M1035.8 778.59h0M1035.8 780.94h0M1035.8 783.69h0M1035.8 787.36h0M1035.8 790.9h0M1035.8 795.13h0M1035.8 799.05h0M1035.8 802.85h0M1035.8 807.03h0M1035.8 811.1h0M1035.8 824.6h0" class="dot"/>
<rect x="1048.3" y="732.7" width="25" height="42.1" fill="#d95f0c" class="bx"/>
<path d="M1048.3 748.8H1073.3" class="md"/>
<path d="M1060.8 672.7V819.7" class="wh"/>
<path d="M1060.8 721.09V788.57" class="core" stroke-width="3"/>
<path d="M1060.8 721.09h0M1060.8 718.52h0M1060.8 716.17h0M1060.8 713.96h0M1060.8 710.9h0M1060.8 707.32h0M1060.8 703.82h0M1060.8 700.29h0M1060.8 695.66h0M1060.8 695.2h0M1060.8 788.57h0M1060.8 790.64h0M1060.8 792.69h0M1060.8 795.29h0M1060.8 798.24h0M1060.8 801.83h0M1060.8 804.98h0M1060.8 809.45h0M1060.8 814.21h0M1060.8 818.92h0M1060.8 819.5h0M1060.8 672.9h0" class="dot"/>
<path d="M677.4 529V927.6H1103.5" class="axis"/>
<path d="M677.4 546.4h-3.7M677.4 641.8h-3.7M677.4 737.4h-3.7M677.4 833h-3.7M756.7 927.6v4.2M890 927.6v4.2M1023.3 927.6v4.2" class="tick"/>
<text x="670.4" y="555.7" font-size="22.9" text-anchor="end">20</text>
<text x="670.4" y="651.1" font-size="22.9" text-anchor="end">15</text>
<text x="670.4" y="746.7" font-size="22.9" text-anchor="end">10</text>
<text x="670.4" y="842.3" font-size="22.9" text-anchor="end">5</text>
<text x="756.7" y="950.9" font-size="22.9" text-anchor="middle">0 min</text>
<text x="890" y="950.9" font-size="22.9" text-anchor="middle">30 min</text>
<text x="1023.3" y="950.9" font-size="22.9" text-anchor="middle">120 min</text>
<text x="889.95" y="518.8" font-size="28.6" text-anchor="middle">C12-carnitine</text>
<text x="1126.7" y="683" font-size="14.65" text-anchor="start">Quartiles M/I</text>
<path d="M1138.3 691.1V710.3" class="kw"/>
<rect x="1129.2" y="694.8" width="18.2" height="11.8" fill="#2a9d73" class="bx"/>
<path d="M1129.2 700.7H1147.4" class="km"/>
<text x="1153.2" y="705" font-size="11.8" text-anchor="start">Q1</text>
<path d="M1138.3 714.65V733.85" class="kw"/>
<rect x="1129.2" y="718.35" width="18.2" height="11.8" fill="#f6e848" class="bx"/>
<path d="M1129.2 724.25H1147.4" class="km"/>
<text x="1153.2" y="728.55" font-size="11.8" text-anchor="start">Q2</text>
<path d="M1138.3 738.2V757.4" class="kw"/>
<rect x="1129.2" y="741.9" width="18.2" height="11.8" fill="#1f76b8" class="bx"/>
<path d="M1129.2 747.8H1147.4" class="km"/>
<text x="1153.2" y="752.1" font-size="11.8" text-anchor="start">Q3</text>
<path d="M1138.3 761.75V780.95" class="kw"/>
<rect x="1129.2" y="765.45" width="18.2" height="11.8" fill="#d95f0c" class="bx"/>
<path d="M1129.2 771.35H1147.4" class="km"/>
<text x="1153.2" y="775.65" font-size="11.8" text-anchor="start">Q4</text>
</g>
<g>
<path d="M1291.2 546.4H1717.6M1291.2 641H1717.6M1291.2 735.7H1717.6M1291.2 830.2H1717.6" class="grid"/>
<rect x="1320.8" y="701.5" width="25" height="32" fill="#2a9d73" class="bx"/>
<path d="M1320.8 718H1345.8" class="md"/>
<path d="M1333.3 664.3V775.1" class="wh"/>
<path d="M1333.3 688.13V748.41" class="core" stroke-width="3"/>
<path d="M1333.3 688.13h0M1333.3 685.41h0M1333.3 683.16h0M1333.3 680.1h0M1333.3 677.52h0M1333.3 674.73h0M1333.3 670.86h0M1333.3 667.42h0M1333.3 664.5h0M1333.3 748.41h0M1333.3 750.66h0M1333.3 752.78h0M1333.3 755.14h0M1333.3 757.95h0M1333.3 761.36h0M1333.3 765.52h0M1333.3 768.71h0M1333.3 772.64h0M1333.3 774.9h0M1333.3 649.8h0M1333.3 785h0" class="dot"/>
<rect x="1345.8" y="706.5" width="25" height="29.7" fill="#f6e848" class="bx"/>
<path d="M1345.8 719.7H1370.8" class="md"/>
<path d="M1358.3 663.1V779.3" class="wh"/>
<path d="M1358.3 690.96V751.63" class="core" stroke-width="3"/>
<path d="M1358.3 690.96h0M1358.3 688.24h0M1358.3 686.16h0M1358.3 684.01h0M1358.3 681.66h0M1358.3 678.62h0M1358.3 674.55h0M1358.3 670.13h0M1358.3 665.58h0M1358.3 663.3h0M1358.3 751.63h0M1358.3 754.32h0M1358.3 756.59h0M1358.3 758.9h0M1358.3 762.38h0M1358.3 765.91h0M1358.3 768.66h0M1358.3 772.72h0M1358.3 776.62h0M1358.3 779.1h0M1358.3 788.4h0M1358.3 792.6h0" class="dot"/>
<rect x="1370.8" y="704" width="25" height="34.5" fill="#1f76b8" class="bx"/>
<path d="M1370.8 717.7H1395.8" class="md"/>
<path d="M1383.3 668.5V779" class="wh"/>
<path d="M1383.3 691.23V753.02" class="core" stroke-width="3"/>
<path d="M1383.3 691.23h0M1383.3 689.14h0M1383.3 687.04h0M1383.3 684.94h0M1383.3 682.3h0M1383.3 679.33h0M1383.3 675.16h0M1383.3 672.01h0M1383.3 668.7h0M1383.3 753.02h0M1383.3 754.99h0M1383.3 757.29h0M1383.3 760.35h0M1383.3 763.68h0M1383.3 766.77h0M1383.3 769.56h0M1383.3 773.29h0M1383.3 777.19h0M1383.3 778.8h0M1383.3 796.3h0" class="dot"/>
<rect x="1395.8" y="707.4" width="25" height="26.1" fill="#d95f0c" class="bx"/>
<path d="M1395.8 721H1420.8" class="md"/>
<path d="M1408.3 677.7V765" class="wh"/>
<path d="M1408.3 696.65V744.88" class="core" stroke-width="3"/>
<path d="M1408.3 696.65h0M1408.3 694.7h0M1408.3 692.39h0M1408.3 689.25h0M1408.3 686.93h0M1408.3 683.87h0M1408.3 679.93h0M1408.3 677.9h0M1408.3 744.88h0M1408.3 746.68h0M1408.3 748.63h0M1408.3 750.8h0M1408.3 754.25h0M1408.3 757.1h0M1408.3 760.94h0M1408.3 764.8h0M1408.3 773.2h0M1408.3 776.6h0M1408.3 781.5h0" class="dot"/>
<rect x="1454" y="702" width="25" height="29.1" fill="#2a9d73" class="bx"/>
<path d="M1454 719.3H1479" class="md"/>
<path d="M1466.5 664.8V765" class="wh"/>
<path d="M1466.5 688.63V743.32" class="core" stroke-width="3"/>
<path d="M1466.5 688.63h0M1466.5 686.53h0M1466.5 684.32h0M1466.5 681.1h0M1466.5 678.03h0M1466.5 675.18h0M1466.5 671.38h0M1466.5 667.91h0M1466.5 665h0M1466.5 743.32h0M1466.5 745.08h0M1466.5 747.81h0M1466.5 750.98h0M1466.5 754.07h0M1466.5 757.88h0M1466.5 760.62h0M1466.5 763.96h0M1466.5 764.8h0M1466.5 780.6h0" class="dot"/>
<rect x="1479" y="702.5" width="25" height="32.7" fill="#f6e848" class="bx"/>
<path d="M1479 718.8H1504" class="md"/>
<path d="M1491.5 664.3V772.6" class="wh"/>
<path d="M1491.5 688.78V748.64" class="core" stroke-width="3"/>
<path d="M1491.5 688.78h0M1491.5 686.07h0M1491.5 683.13h0M1491.5 680.58h0M1491.5 677.98h0M1491.5 674.89h0M1491.5 671.43h0M1491.5 666.94h0M1491.5 664.5h0M1491.5 748.64h0M1491.5 751.19h0M1491.5 753.91h0M1491.5 756.97h0M1491.5 760.24h0M1491.5 763.57h0M1491.5 766.78h0M1491.5 770.26h0M1491.5 772.4h0" class="dot"/>
<rect x="1504" y="701.7" width="25" height="35.2" fill="#1f76b8" class="bx"/>
<path d="M1504 716.6H1529" class="md"/>
<path d="M1516.5 678.6V767.5" class="wh"/>
<path d="M1516.5 693.26V747.96" class="core" stroke-width="3"/>
<path d="M1516.5 693.26h0M1516.5 690.73h0M1516.5 688.73h0M1516.5 686.4h0M1516.5 683.16h0M1516.5 680.33h0M1516.5 678.8h0M1516.5 747.96h0M1516.5 749.75h0M1516.5 752.27h0M1516.5 754.74h0M1516.5 758.28h0M1516.5 762h0M1516.5 766.21h0M1516.5 767.3h0" class="dot"/>
<rect x="1529" y="705" width="25" height="29" fill="#d95f0c" class="bx"/>
<path d="M1529 719.7H1554" class="md"/>
<path d="M1541.5 668.8V769.5" class="wh"/>
<path d="M1541.5 691.98V746.77" class="core" stroke-width="3"/>
<path d="M1541.5 691.98h0M1541.5 690.14h0M1541.5 688.11h0M1541.5 685.44h0M1541.5 682.25h0M1541.5 679.14h0M1541.5 676.07h0M1541.5 672.43h0M1541.5 669h0M1541.5 746.77h0M1541.5 749.2h0M1541.5 751.93h0M1541.5 755.02h0M1541.5 758.15h0M1541.5 760.8h0M1541.5 764.79h0M1541.5 768.23h0M1541.5 769.3h0" class="dot"/>
<rect x="1587.2" y="729.3" width="25" height="24.1" fill="#2a9d73" class="bx"/>
<path d="M1587.2 739.9H1612.2" class="md"/>
<path d="M1599.7 700.5V780.2" class="wh"/>
<path d="M1599.7 718.87V763.13" class="core" stroke-width="3"/>
<path d="M1599.7 718.87h0M1599.7 716.74h0M1599.7 714.03h0M1599.7 711.7h0M1599.7 709.1h0M1599.7 706.28h0M1599.7 703.34h0M1599.7 700.7h0M1599.7 763.13h0M1599.7 765.46h0M1599.7 767.73h0M1599.7 770.29h0M1599.7 773.84h0M1599.7 777.03h0M1599.7 780h0M1599.7 677.9h0M1599.7 680.9h0M1599.7 798.3h0M1599.7 809.3h0" class="dot"/>
<rect x="1612.2" y="736.5" width="25" height="22.8" fill="#f6e848" class="bx"/>
<path d="M1612.2 747.5H1637.2" class="md"/>
<path d="M1624.7 706.4V787.7" class="wh"/>
<path d="M1624.7 725.62V769.59" class="core" stroke-width="3"/>
<path d="M1624.7 725.62h0M1624.7 723.05h0M1624.7 720.43h0M1624.7 717.17h0M1624.7 714.76h0M1624.7 711.62h0M1624.7 707.66h0M1624.7 706.6h0M1624.7 769.59h0M1624.7 772.26h0M1624.7 774.22h0M1624.7 776.65h0M1624.7 779.09h0M1624.7 781.84h0M1624.7 786.03h0M1624.7 787.5h0M1624.7 685.5h0M1624.7 696.1h0M1624.7 699.5h0" class="dot"/>
<rect x="1637.2" y="735.2" width="25" height="27.1" fill="#1f76b8" class="bx"/>
<path d="M1637.2 752.5H1662.2" class="md"/>
<path d="M1649.7 695.8V796.5" class="wh"/>
<path d="M1649.7 721.06V774.62" class="core" stroke-width="3"/>
<path d="M1649.7 721.06h0M1649.7 718.38h0M1649.7 716.06h0M1649.7 712.95h0M1649.7 710.09h0M1649.7 707.25h0M1649.7 703.35h0M1649.7 698.83h0M1649.7 696h0M1649.7 774.62h0M1649.7 776.97h0M1649.7 779.56h0M1649.7 781.9h0M1649.7 784.66h0M1649.7 787.34h0M1649.7 790.36h0M1649.7 793.73h0M1649.7 796.3h0" class="dot"/>
<rect x="1662.2" y="741.2" width="25" height="21.1" fill="#d95f0c" class="bx"/>
<path d="M1662.2 751.2H1687.2" class="md"/>
<path d="M1674.7 715.6V788.6" class="wh"/>
<path d="M1674.7 731.89V771.86" class="core" stroke-width="3"/>
<path d="M1674.7 731.89h0M1674.7 729.48h0M1674.7 727.35h0M1674.7 725.24h0M1674.7 722.54h0M1674.7 719.11h0M1674.7 716.12h0M1674.7 715.8h0M1674.7 771.86h0M1674.7 773.82h0M1674.7 776.59h0M1674.7 779.33h0M1674.7 781.69h0M1674.7 784.32h0M1674.7 787.63h0M1674.7 788.4h0M1674.7 691.6h0M1674.7 696.9h0M1674.7 700.7h0M1674.7 704.5h0M1674.7 795h0" class="dot"/>
<path d="M1291.2 529V924.1H1717.6" class="axis"/>
<path d="M1291.2 546.4h-3.7M1291.2 641h-3.7M1291.2 735.7h-3.7M1291.2 830.2h-3.7M1370.8 924.1v4.2M1504 924.1v4.2M1637.2 924.1v4.2" class="tick"/>
<text x="1284.2" y="555.7" font-size="22.9" text-anchor="end">20</text>
<text x="1284.2" y="650.3" font-size="22.9" text-anchor="end">15</text>
<text x="1284.2" y="745" font-size="22.9" text-anchor="end">10</text>
<text x="1284.2" y="839.5" font-size="22.9" text-anchor="end">5</text>
<text x="1370.8" y="948.1" font-size="22.9" text-anchor="middle">0 min</text>
<text x="1504" y="948.1" font-size="22.9" text-anchor="middle">30 min</text>
<text x="1637.2" y="948.1" font-size="22.9" text-anchor="middle">120 min</text>
<text x="1503.9" y="519" font-size="28.6" text-anchor="middle">C14-carnitine</text>
<text x="1504.1" y="972.4" font-size="23.05" text-anchor="middle">Sampling during OGTT</text>
<text x="1740.9" y="681.4" font-size="14.65" text-anchor="start">Quartiles M/I</text>
<path d="M1752.1 689.6V708.8" class="kw"/>
<rect x="1743" y="693.3" width="18.2" height="11.8" fill="#2a9d73" class="bx"/>
<path d="M1743 699.2H1761.2" class="km"/>
<text x="1766.6" y="703.5" font-size="11.8" text-anchor="start">Q1</text>
<path d="M1752.1 713.15V732.35" class="kw"/>
<rect x="1743" y="716.85" width="18.2" height="11.8" fill="#f6e848" class="bx"/>
<path d="M1743 722.75H1761.2" class="km"/>
<text x="1766.6" y="727.05" font-size="11.8" text-anchor="start">Q2</text>
<path d="M1752.1 736.7V755.9" class="kw"/>
<rect x="1743" y="740.4" width="18.2" height="11.8" fill="#1f76b8" class="bx"/>
<path d="M1743 746.3H1761.2" class="km"/>
<text x="1766.6" y="750.6" font-size="11.8" text-anchor="start">Q3</text>
<path d="M1752.1 760.25V779.45" class="kw"/>
<rect x="1743" y="763.95" width="18.2" height="11.8" fill="#d95f0c" class="bx"/>
<path d="M1743 769.85H1761.2" class="km"/>
<text x="1766.6" y="774.15" font-size="11.8" text-anchor="start">Q4</text>
</g>
<g>
<path d="M66.5 1037.5H489.8M66.5 1132.2H489.8M66.5 1227H489.8M66.5 1321.9H489.8" class="grid"/>
<rect x="95.9" y="1182.7" width="24.85" height="21.1" fill="#2a9d73" class="bx"/>
<path d="M95.9 1190.8H120.75" class="md"/>
<path d="M108.32 1154.3V1228" class="wh"/>
<path d="M108.32 1170.94V1213.88" class="core" stroke-width="3"/>
<path d="M108.32 1170.94h0M108.32 1168.55h0M108.32 1166.53h0M108.32 1164.25h0M108.32 1161.08h0M108.32 1158.02h0M108.32 1154.88h0M108.32 1154.5h0M108.32 1213.88h0M108.32 1216.58h0M108.32 1218.84h0M108.32 1221.6h0M108.32 1224.33h0M108.32 1227.4h0M108.32 1227.8h0M108.32 1235.8h0M108.32 1240h0M108.32 1250.9h0M108.32 1256.8h0M108.32 1262.2h0" class="dot"/>
<rect x="120.75" y="1180.5" width="24.85" height="21.6" fill="#f6e848" class="bx"/>
<path d="M120.75 1190.3H145.6" class="md"/>
<path d="M133.18 1150V1234" class="wh"/>
<path d="M133.18 1167.9V1215.26" class="core" stroke-width="3"/>
<path d="M133.18 1167.9h0M133.18 1165.15h0M133.18 1162.84h0M133.18 1160.52h0M133.18 1157.31h0M133.18 1154.54h0M133.18 1151.82h0M133.18 1150.2h0M133.18 1215.26h0M133.18 1217.44h0M133.18 1220.24h0M133.18 1222.81h0M133.18 1226.22h0M133.18 1229.35h0M133.18 1232.31h0M133.18 1233.8h0M133.18 1142.3h0M133.18 1239.2h0M133.18 1246.7h0M133.18 1252.6h0M133.18 1261h0M133.18 1267.3h0" class="dot"/>
<rect x="145.6" y="1180.2" width="24.85" height="24.4" fill="#1f76b8" class="bx"/>
<path d="M145.6 1191.5H170.45" class="md"/>
<path d="M158.03 1145.8V1237.3" class="wh"/>
<path d="M158.03 1166.04V1218.08" class="core" stroke-width="3"/>
<path d="M158.03 1166.04h0M158.03 1163.73h0M158.03 1161.12h0M158.03 1157.96h0M158.03 1155.57h0M158.03 1152.22h0M158.03 1148.94h0M158.03 1146h0M158.03 1218.08h0M158.03 1219.98h0M158.03 1222.21h0M158.03 1224.91h0M158.03 1228.38h0M158.03 1231.01h0M158.03 1234.47h0M158.03 1237.1h0M158.03 1243.4h0M158.03 1257.7h0M158.03 1260.2h0M158.03 1285h0" class="dot"/>
<rect x="170.45" y="1181.9" width="24.85" height="24.4" fill="#d95f0c" class="bx"/>
<path d="M170.45 1195H195.3" class="md"/>
<path d="M182.88 1149.2V1235.6" class="wh"/>
<path d="M182.88 1168.42V1218.42" class="core" stroke-width="3"/>
<path d="M182.88 1168.42h0M182.88 1165.7h0M182.88 1163.57h0M182.88 1161.33h0M182.88 1157.84h0M182.88 1154h0M182.88 1150.55h0M182.88 1149.4h0M182.88 1218.42h0M182.88 1221.1h0M182.88 1223.43h0M182.88 1226.59h0M182.88 1229.66h0M182.88 1233.3h0M182.88 1235.4h0M182.88 1243.4h0M182.88 1248.4h0M182.88 1252.1h0M182.88 1273.3h0" class="dot"/>
<rect x="228.1" y="1179" width="24.85" height="20.9" fill="#2a9d73" class="bx"/>
<path d="M228.1 1189.1H252.95" class="md"/>
<path d="M240.53 1154.3V1227.2" class="wh"/>
<path d="M240.53 1168.72V1211.22" class="core" stroke-width="3"/>
<path d="M240.53 1168.72h0M240.53 1166.18h0M240.53 1164.02h0M240.53 1161.46h0M240.53 1158.09h0M240.53 1154.5h0M240.53 1211.22h0M240.53 1213.16h0M240.53 1215.31h0M240.53 1217.88h0M240.53 1220.82h0M240.53 1223.84h0M240.53 1226.74h0M240.53 1227h0M240.53 1240h0M240.53 1243.4h0M240.53 1246.7h0M240.53 1249.3h0M240.53 1261.6h0M240.53 1266.1h0M240.53 1268.6h0M240.53 1281.8h0" class="dot"/>
<rect x="252.95" y="1177.3" width="24.85" height="20.6" fill="#f6e848" class="bx"/>
<path d="M252.95 1186.1H277.8" class="md"/>
<path d="M265.38 1152.6V1223" class="wh"/>
<path d="M265.38 1167.02V1208.34" class="core" stroke-width="3"/>
<path d="M265.38 1167.02h0M265.38 1164.54h0M265.38 1161.66h0M265.38 1159.52h0M265.38 1156.52h0M265.38 1152.97h0M265.38 1152.8h0M265.38 1208.34h0M265.38 1210.93h0M265.38 1212.98h0M265.38 1215.77h0M265.38 1218.76h0M265.38 1222.12h0M265.38 1222.8h0M265.38 1143.2h0M265.38 1236.6h0M265.38 1239.2h0M265.38 1249.3h0M265.38 1251.8h0M265.38 1256.8h0M265.38 1261.9h0M265.38 1266.1h0M265.38 1273.7h0M265.38 1275.7h0" class="dot"/>
<rect x="277.8" y="1176.3" width="24.85" height="24.1" fill="#1f76b8" class="bx"/>
<path d="M277.8 1187.5H302.65" class="md"/>
<path d="M290.23 1140V1225.5" class="wh"/>
<path d="M290.23 1161.38V1210.84" class="core" stroke-width="3"/>
<path d="M290.23 1161.38h0M290.23 1159.2h0M290.23 1156.66h0M290.23 1154.07h0M290.23 1150.94h0M290.23 1147.83h0M290.23 1144.46h0M290.23 1141.47h0M290.23 1140.2h0M290.23 1210.84h0M290.23 1213.08h0M290.23 1215.26h0M290.23 1218.25h0M290.23 1221.53h0M290.23 1224.65h0M290.23 1225.3h0M290.23 1238.7h0M290.23 1247.2h0M290.23 1252.6h0" class="dot"/>
<rect x="302.65" y="1180.7" width="24.85" height="24.8" fill="#d95f0c" class="bx"/>
<path d="M302.65 1191.2H327.5" class="md"/>
<path d="M315.08 1145V1242.4" class="wh"/>
<path d="M315.08 1166.02V1220.66" class="core" stroke-width="3"/>
<path d="M315.08 1166.02h0M315.08 1163.79h0M315.08 1161.76h0M315.08 1159.52h0M315.08 1156.68h0M315.08 1154.07h0M315.08 1150.69h0M315.08 1146.89h0M315.08 1145.2h0M315.08 1220.66h0M315.08 1223.05h0M315.08 1225.06h0M315.08 1228.01h0M315.08 1231.29h0M315.08 1234.49h0M315.08 1237.28h0M315.08 1241.07h0M315.08 1242.2h0M315.08 1248.4h0M315.08 1256.8h0M315.08 1260.2h0M315.08 1270h0" class="dot"/>
<rect x="360.3" y="1184.8" width="24.85" height="18.7" fill="#2a9d73" class="bx"/>
<path d="M360.3 1193.2H385.15" class="md"/>
<path d="M372.73 1162.7V1228" class="wh"/>
<path d="M372.73 1175.56V1213.7" class="core" stroke-width="3"/>
<path d="M372.73 1175.56h0M372.73 1172.86h0M372.73 1170.79h0M372.73 1167.69h0M372.73 1164.14h0M372.73 1162.9h0M372.73 1213.7h0M372.73 1216.27h0M372.73 1218.39h0M372.73 1221.64h0M372.73 1224.55h0M372.73 1227.8h0M372.73 1153.8h0M372.73 1236.6h0M372.73 1269.1h0M372.73 1275.4h0" class="dot"/>
<rect x="385.15" y="1185.8" width="24.85" height="28.4" fill="#f6e848" class="bx"/>
<path d="M385.15 1197H410" class="md"/>
<path d="M397.57 1154.8V1250" class="wh"/>
<path d="M397.57 1173V1223.72" class="core" stroke-width="3"/>
<path d="M397.57 1173h0M397.57 1170.33h0M397.57 1168.24h0M397.57 1165.22h0M397.57 1161.75h0M397.57 1159.17h0M397.57 1155.93h0M397.57 1155h0M397.57 1223.72h0M397.57 1225.64h0M397.57 1228.52h0M397.57 1230.94h0M397.57 1234.26h0M397.57 1236.8h0M397.57 1249.8h0M397.57 1256.8h0M397.57 1261h0M397.57 1272h0M397.57 1274.5h0M397.57 1290.5h0" class="dot"/>
<rect x="410" y="1186.1" width="24.85" height="30.3" fill="#1f76b8" class="bx"/>
<path d="M410 1199.1H434.85" class="md"/>
<path d="M422.43 1144.2V1255.8" class="wh"/>
<path d="M422.43 1175.26V1232.56" class="core" stroke-width="3"/>
<path d="M422.43 1175.26h0M422.43 1173h0M422.43 1170.09h0M422.43 1167.76h0M422.43 1165.14h0M422.43 1161.95h0M422.43 1160.2h0M422.43 1232.56h0M422.43 1234.36h0M422.43 1236.47h0M422.43 1238.75h0M422.43 1242.23h0M422.43 1245.67h0M422.43 1249.74h0M422.43 1252.97h0M422.43 1255.6h0M422.43 1144.4h0" class="dot"/>
<rect x="434.85" y="1188.3" width="24.85" height="26.7" fill="#d95f0c" class="bx"/>
<path d="M434.85 1200.8H459.7" class="md"/>
<path d="M447.28 1150V1258.4" class="wh"/>
<path d="M447.28 1177.3V1232.76" class="core" stroke-width="3"/>
<path d="M447.28 1177.3h0M447.28 1175.43h0M447.28 1172.93h0M447.28 1170.1h0M447.28 1167.35h0M447.28 1163.65h0M447.28 1162h0M447.28 1232.76h0M447.28 1235.09h0M447.28 1237.96h0M447.28 1240.18h0M447.28 1243.73h0M447.28 1247.1h0M447.28 1250.4h0M447.28 1254.68h0M447.28 1258.2h0M447.28 1150.2h0" class="dot"/>
<path d="M66.5 1020V1415H489.8" class="axis"/>
<path d="M66.5 1037.5h-3.7M66.5 1132.2h-3.7M66.5 1227h-3.7M66.5 1321.9h-3.7M145.6 1415v4.2M277.8 1415v4.2M410 1415v4.2" class="tick"/>
<text x="59.5" y="1046.8" font-size="22.9" text-anchor="end">20</text>
<text x="59.5" y="1141.5" font-size="22.9" text-anchor="end">15</text>
<text x="59.5" y="1236.3" font-size="22.9" text-anchor="end">10</text>
<text x="59.5" y="1331.2" font-size="22.9" text-anchor="end">5</text>
<text x="145.6" y="1439" font-size="22.9" text-anchor="middle">0 min</text>
<text x="277.8" y="1439" font-size="22.9" text-anchor="middle">30 min</text>
<text x="410" y="1439" font-size="22.9" text-anchor="middle">120 min</text>
<text x="277.65" y="1010.3" font-size="28.6" text-anchor="middle">C16-carnitine</text>
<text x="0" y="0" font-size="23.05" text-anchor="middle" transform="translate(23.2 1218.1) rotate(-90)">Signal intensity</text>
<text x="277.85" y="1463.3" font-size="23.05" text-anchor="middle">Sampling during OGTT</text>
<text x="512.8" y="1173.1" font-size="14.65" text-anchor="start">Quartiles M/I</text>
<path d="M524.25 1181V1200.2" class="kw"/>
<rect x="515" y="1184.7" width="18.5" height="11.8" fill="#2a9d73" class="bx"/>
<path d="M515 1190.6H533.5" class="km"/>
<text x="539" y="1194.9" font-size="11.8" text-anchor="start">Q1</text>
<path d="M524.25 1204.55V1223.75" class="kw"/>
<rect x="515" y="1208.25" width="18.5" height="11.8" fill="#f6e848" class="bx"/>
<path d="M515 1214.15H533.5" class="km"/>
<text x="539" y="1218.45" font-size="11.8" text-anchor="start">Q2</text>
<path d="M524.25 1228.1V1247.3" class="kw"/>
<rect x="515" y="1231.8" width="18.5" height="11.8" fill="#1f76b8" class="bx"/>
<path d="M515 1237.7H533.5" class="km"/>
<text x="539" y="1242" font-size="11.8" text-anchor="start">Q3</text>
<path d="M524.25 1251.65V1270.85" class="kw"/>
<rect x="515" y="1255.35" width="18.5" height="11.8" fill="#d95f0c" class="bx"/>
<path d="M515 1261.25H533.5" class="km"/>
<text x="539" y="1265.55" font-size="11.8" text-anchor="start">Q4</text>
</g>
<g>
<path d="M677.4 1037.5H1103.5M677.4 1132.2H1103.5M677.4 1227H1103.5M677.4 1321.9H1103.5" class="grid"/>
<rect x="706.7" y="1223.5" width="25" height="31.3" fill="#2a9d73" class="bx"/>
<path d="M706.7 1240.3H731.7" class="md"/>
<path d="M719.2 1183.7V1299.6" class="wh"/>
<path d="M719.2 1215.25V1268.54" class="core" stroke-width="3"/>
<path d="M719.2 1215.25h0M719.2 1212.38h0M719.2 1209.73h0M719.2 1207.1h0M719.2 1203.69h0M719.2 1200.45h0M719.2 1197.34h0M719.2 1197.2h0M719.2 1268.54h0M719.2 1270.43h0M719.2 1273.36h0M719.2 1275.86h0M719.2 1279.1h0M719.2 1283.13h0M719.2 1286.9h0M719.2 1291.14h0M719.2 1295.09h0M719.2 1298.76h0M719.2 1299.4h0M719.2 1183.9h0M719.2 1332.8h0" class="dot"/>
<rect x="731.7" y="1229.4" width="25" height="28.3" fill="#f6e848" class="bx"/>
<path d="M731.7 1242.5H756.7" class="md"/>
<path d="M744.2 1200.6V1289.5" class="wh"/>
<path d="M744.2 1220.46V1267.54" class="core" stroke-width="3"/>
<path d="M744.2 1220.46h0M744.2 1218.47h0M744.2 1215.76h0M744.2 1213.05h0M744.2 1209.98h0M744.2 1206.07h0M744.2 1203.03h0M744.2 1200.8h0M744.2 1267.54h0M744.2 1270.06h0M744.2 1272.09h0M744.2 1274.28h0M744.2 1277.13h0M744.2 1279.89h0M744.2 1283.29h0M744.2 1286.76h0M744.2 1289.3h0M744.2 1176h0M744.2 1186.4h0M744.2 1302.3h0M744.2 1304h0M744.2 1309.4h0" class="dot"/>
<rect x="756.7" y="1228.2" width="25" height="28.1" fill="#1f76b8" class="bx"/>
<path d="M756.7 1238.8H781.7" class="md"/>
<path d="M769.2 1191.3V1295.4" class="wh"/>
<path d="M769.2 1216.83V1268.33" class="core" stroke-width="3"/>
<path d="M769.2 1216.83h0M769.2 1214.38h0M769.2 1212.14h0M769.2 1209.19h0M769.2 1206.17h0M769.2 1203.38h0M769.2 1199.05h0M769.2 1195.55h0M769.2 1191.9h0M769.2 1191.5h0M769.2 1268.33h0M769.2 1270.83h0M769.2 1273.82h0M769.2 1276.97h0M769.2 1279.89h0M769.2 1282.87h0M769.2 1285.72h0M769.2 1289.93h0M769.2 1294.35h0M769.2 1295.2h0M769.2 1168.9h0M769.2 1306.9h0M769.2 1321.3h0" class="dot"/>
<rect x="781.7" y="1232.1" width="25" height="29.5" fill="#d95f0c" class="bx"/>
<path d="M781.7 1244.7H806.7" class="md"/>
<path d="M794.2 1199.7V1295.4" class="wh"/>
<path d="M794.2 1222.08V1272.04" class="core" stroke-width="3"/>
<path d="M794.2 1222.08h0M794.2 1219.57h0M794.2 1217.07h0M794.2 1213.73h0M794.2 1210.36h0M794.2 1207.4h0M794.2 1203.13h0M794.2 1199.97h0M794.2 1199.9h0M794.2 1272.04h0M794.2 1274.3h0M794.2 1276.57h0M794.2 1278.83h0M794.2 1282.26h0M794.2 1284.87h0M794.2 1288.58h0M794.2 1293.3h0M794.2 1295.2h0M794.2 1310.2h0" class="dot"/>
<rect x="840" y="1232.1" width="25" height="26.1" fill="#2a9d73" class="bx"/>
<path d="M840 1243.4H865" class="md"/>
<path d="M852.5 1195.5V1292.9" class="wh"/>
<path d="M852.5 1220.82V1268.91" class="core" stroke-width="3"/>
<path d="M852.5 1220.82h0M852.5 1218.77h0M852.5 1216.08h0M852.5 1213.27h0M852.5 1210.03h0M852.5 1206.24h0M852.5 1203.13h0M852.5 1199.51h0M852.5 1195.7h0M852.5 1268.91h0M852.5 1270.8h0M852.5 1273.81h0M852.5 1276.96h0M852.5 1280.3h0M852.5 1282.91h0M852.5 1287.08h0M852.5 1291.46h0M852.5 1292.7h0M852.5 1301.8h0M852.5 1316.3h0" class="dot"/>
<rect x="865" y="1227" width="25" height="31.5" fill="#f6e848" class="bx"/>
<path d="M865 1241.3H890" class="md"/>
<path d="M877.5 1181.2V1304.7" class="wh"/>
<path d="M877.5 1212.96V1268.1" class="core" stroke-width="3"/>
<path d="M877.5 1212.96h0M877.5 1210.35h0M877.5 1207.84h0M877.5 1205.37h0M877.5 1202.85h0M877.5 1199.91h0M877.5 1197.02h0M877.5 1193.35h0M877.5 1188.57h0M877.5 1183.47h0M877.5 1181.4h0M877.5 1268.1h0M877.5 1270.68h0M877.5 1272.98h0M877.5 1275.85h0M877.5 1278.82h0M877.5 1282.57h0M877.5 1286.23h0M877.5 1289.3h0M877.5 1304.5h0M877.5 1173.1h0M877.5 1315.8h0M877.5 1325.6h0" class="dot"/>
<rect x="890" y="1224" width="25" height="25.8" fill="#1f76b8" class="bx"/>
<path d="M890 1236.6H915" class="md"/>
<path d="M902.5 1196.4V1289.5" class="wh"/>
<path d="M902.5 1215.42V1262.01" class="core" stroke-width="3"/>
<path d="M902.5 1215.42h0M902.5 1212.92h0M902.5 1209.82h0M902.5 1207.37h0M902.5 1203.81h0M902.5 1201.19h0M902.5 1197.94h0M902.5 1196.6h0M902.5 1262.01h0M902.5 1264.62h0M902.5 1267.69h0M902.5 1270.79h0M902.5 1273.62h0M902.5 1277.5h0M902.5 1280.85h0M902.5 1284.35h0M902.5 1289.3h0M902.5 1166.6h0M902.5 1293.9h0M902.5 1298.4h0M902.5 1305.7h0" class="dot"/>
<rect x="915" y="1226.2" width="25" height="34.5" fill="#d95f0c" class="bx"/>
<path d="M915 1246.4H940" class="md"/>
<path d="M927.5 1179.5V1291.2" class="wh"/>
<path d="M927.5 1217.74V1270.15" class="core" stroke-width="3"/>
<path d="M927.5 1217.74h0M927.5 1215.25h0M927.5 1212.46h0M927.5 1209.46h0M927.5 1205.76h0M927.5 1202.48h0M927.5 1199.2h0M927.5 1270.15h0M927.5 1272.71h0M927.5 1275.69h0M927.5 1278.41h0M927.5 1281.76h0M927.5 1285.19h0M927.5 1288.51h0M927.5 1291h0M927.5 1179.7h0M927.5 1315.6h0M927.5 1320h0M927.5 1324.4h0" class="dot"/>
<rect x="973.3" y="1246.4" width="25" height="20.2" fill="#2a9d73" class="bx"/>
<path d="M973.3 1255.7H998.3" class="md"/>
<path d="M985.8 1220.8V1287.8" class="wh"/>
<path d="M985.8 1238.42V1273.26" class="core" stroke-width="3"/>
<path d="M985.8 1238.42h0M985.8 1235.94h0M985.8 1233.84h0M985.8 1230.54h0M985.8 1227.96h0M985.8 1225.32h0M985.8 1222.32h0M985.8 1221h0M985.8 1273.26h0M985.8 1275.46h0M985.8 1277.62h0M985.8 1279.84h0M985.8 1282.28h0M985.8 1285.89h0M985.8 1287.6h0M985.8 1194.2h0M985.8 1213h0M985.8 1298.9h0M985.8 1314.4h0M985.8 1351.3h0" class="dot"/>
<rect x="998.3" y="1240.5" width="25" height="29.3" fill="#f6e848" class="bx"/>
<path d="M998.3 1256.5H1023.3" class="md"/>
<path d="M1010.8 1209V1306.7" class="wh"/>
<path d="M1010.8 1230.75V1281.17" class="core" stroke-width="3"/>
<path d="M1010.8 1230.75h0M1010.8 1228.19h0M1010.8 1225.35h0M1010.8 1223.08h0M1010.8 1219.91h0M1010.8 1216.78h0M1010.8 1212.65h0M1010.8 1209.2h0M1010.8 1281.17h0M1010.8 1283.93h0M1010.8 1286.01h0M1010.8 1289.27h0M1010.8 1292.87h0M1010.8 1296.85h0M1010.8 1299.85h0M1010.8 1303.3h0M1010.8 1306.5h0M1010.8 1324.2h0" class="dot"/>
<rect x="1023.3" y="1243" width="25" height="26" fill="#1f76b8" class="bx"/>
<path d="M1023.3 1253.1H1048.3" class="md"/>
<path d="M1035.8 1207.3V1301.3" class="wh"/>
<path d="M1035.8 1231.99V1278.99" class="core" stroke-width="3"/>
<path d="M1035.8 1231.99h0M1035.8 1230.11h0M1035.8 1227.15h0M1035.8 1223.97h0M1035.8 1220.73h0M1035.8 1216.93h0M1035.8 1213.1h0M1035.8 1209.51h0M1035.8 1207.5h0M1035.8 1278.99h0M1035.8 1280.93h0M1035.8 1283.79h0M1035.8 1286.23h0M1035.8 1289.04h0M1035.8 1292.26h0M1035.8 1295.12h0M1035.8 1298.65h0M1035.8 1301.1h0M1035.8 1181.6h0M1035.8 1197.9h0M1035.8 1325h0" class="dot"/>
<rect x="1048.3" y="1242" width="25" height="32.5" fill="#d95f0c" class="bx"/>
<path d="M1048.3 1258.5H1073.3" class="md"/>
<path d="M1060.8 1207.3V1321.5" class="wh"/>
<path d="M1060.8 1231.29V1281.25" class="core" stroke-width="3"/>
<path d="M1060.8 1231.29h0M1060.8 1228.71h0M1060.8 1226.29h0M1060.8 1223.71h0M1060.8 1220.03h0M1060.8 1216.7h0M1060.8 1212.51h0M1060.8 1208.35h0M1060.8 1207.5h0M1060.8 1281.25h0M1060.8 1283.52h0M1060.8 1286.02h0M1060.8 1289.15h0M1060.8 1292h0M1060.8 1295.63h0M1060.8 1295.8h0M1060.8 1321.3h0M1060.8 1178.9h0M1060.8 1310h0M1060.8 1346.3h0" class="dot"/>
<path d="M677.4 1020V1415H1103.5" class="axis"/>
<path d="M677.4 1037.5h-3.7M677.4 1132.2h-3.7M677.4 1227h-3.7M677.4 1321.9h-3.7M756.7 1415v4.2M890 1415v4.2M1023.3 1415v4.2" class="tick"/>
<text x="670.4" y="1046.8" font-size="22.9" text-anchor="end">20</text>
<text x="670.4" y="1141.5" font-size="22.9" text-anchor="end">15</text>
<text x="670.4" y="1236.3" font-size="22.9" text-anchor="end">10</text>
<text x="670.4" y="1331.2" font-size="22.9" text-anchor="end">5</text>
<text x="756.7" y="1439" font-size="22.9" text-anchor="middle">0 min</text>
<text x="890" y="1439" font-size="22.9" text-anchor="middle">30 min</text>
<text x="1023.3" y="1439" font-size="22.9" text-anchor="middle">120 min</text>
<text x="889.95" y="1010.3" font-size="28.6" text-anchor="middle">C18-carnitine</text>
<text x="890.15" y="1463.3" font-size="23.05" text-anchor="middle">Sampling during OGTT</text>
<text x="1126.7" y="1173.1" font-size="14.65" text-anchor="start">Quartiles M/I</text>
<path d="M1138.3 1181V1200.2" class="kw"/>
<rect x="1129.2" y="1184.7" width="18.2" height="11.8" fill="#2a9d73" class="bx"/>
<path d="M1129.2 1190.6H1147.4" class="km"/>
<text x="1153.2" y="1194.9" font-size="11.8" text-anchor="start">Q1</text>
<path d="M1138.3 1204.55V1223.75" class="kw"/>
<rect x="1129.2" y="1208.25" width="18.2" height="11.8" fill="#f6e848" class="bx"/>
<path d="M1129.2 1214.15H1147.4" class="km"/>
<text x="1153.2" y="1218.45" font-size="11.8" text-anchor="start">Q2</text>
<path d="M1138.3 1228.1V1247.3" class="kw"/>
<rect x="1129.2" y="1231.8" width="18.2" height="11.8" fill="#1f76b8" class="bx"/>
<path d="M1129.2 1237.7H1147.4" class="km"/>
<text x="1153.2" y="1242" font-size="11.8" text-anchor="start">Q3</text>
<path d="M1138.3 1251.65V1270.85" class="kw"/>
<rect x="1129.2" y="1255.35" width="18.2" height="11.8" fill="#d95f0c" class="bx"/>
<path d="M1129.2 1261.25H1147.4" class="km"/>
<text x="1153.2" y="1265.55" font-size="11.8" text-anchor="start">Q4</text>
</g>
<g>
<path d="M1384.3 1101.4H1895M1384.3 1182.8H1895M1384.3 1264.1H1895" class="grid"/>
<path d="M1384.3 1345.6H1895" class="zero"/>
<rect x="1396.4" y="1344.4" width="49.2" height="1.2" class="bar"/>
<path d="M1421 1330V1357.7M1413.3 1330h15.4M1413.3 1357.7h15.4" class="err"/>
<rect x="1458.8" y="1315.6" width="49.2" height="30" class="bar"/>
<path d="M1483.4 1304V1327.3M1475.7 1304h15.4M1475.7 1327.3h15.4" class="err"/>
<rect x="1521.2" y="1310.2" width="49.2" height="35.4" class="bar"/>
<path d="M1545.8 1275.3V1344.7M1538.1 1275.3h15.4M1538.1 1344.7h15.4" class="err"/>
<rect x="1583.5" y="1237.1" width="49.2" height="108.5" class="bar"/>
<path d="M1608.1 1214.3V1260.4M1600.4 1214.3h15.4M1600.4 1260.4h15.4" class="err"/>
<rect x="1645.9" y="1171.7" width="49.2" height="173.9" class="bar"/>
<path d="M1670.5 1135V1208.9M1662.8 1135h15.4M1662.8 1208.9h15.4" class="err"/>
<rect x="1708.2" y="1276.1" width="49.2" height="69.5" class="bar"/>
<path d="M1732.8 1254.3V1298M1725.1 1254.3h15.4M1725.1 1298h15.4" class="err"/>
<rect x="1770.5" y="1281.5" width="49.2" height="64.1" class="bar"/>
<path d="M1795.1 1249.8V1313.8M1787.4 1249.8h15.4M1787.4 1313.8h15.4" class="err"/>
<rect x="1832.9" y="1326.4" width="49.2" height="19.2" class="bar"/>
<path d="M1857.5 1294.1V1359.2M1849.8 1294.1h15.4M1849.8 1359.2h15.4" class="err"/>
<path d="M1384.3 1088.6H1895V1375.1" class="frame"/>
<path d="M1384.3 1088.2V1375.1H1895.6" class="axis"/>
<path d="M1384.3 1101.4h-3.7M1384.3 1182.8h-3.7M1384.3 1264.1h-3.7M1384.3 1345.6h-3.7M1421 1375.1v4M1483.4 1375.1v4M1545.8 1375.1v4M1608.1 1375.1v4M1670.5 1375.1v4M1732.8 1375.1v4M1795.1 1375.1v4M1857.5 1375.1v4" class="tick"/>
<text x="1375.1" y="1107.7" font-size="17.5" text-anchor="end">1.5</text>
<text x="1375.1" y="1189.1" font-size="17.5" text-anchor="end">1.0</text>
<text x="1375.1" y="1270.4" font-size="17.5" text-anchor="end">0.5</text>
<text x="1375.1" y="1351.9" font-size="17.5" text-anchor="end">0.0</text>
<text x="1421" y="1394.2" font-size="16" text-anchor="middle">L-carnitine</text>
<text x="1483.4" y="1394.2" font-size="16" text-anchor="middle">C2</text>
<text x="1545.8" y="1394.2" font-size="16" text-anchor="middle">C8</text>
<text x="1608.1" y="1394.2" font-size="16" text-anchor="middle">C10</text>
<text x="1670.5" y="1394.2" font-size="16" text-anchor="middle">C12</text>
<text x="1732.8" y="1394.2" font-size="16" text-anchor="middle">C14</text>
<text x="1795.1" y="1394.2" font-size="16" text-anchor="middle">C16</text>
<text x="1857.5" y="1394.2" font-size="16" text-anchor="middle">C18</text>
<text x="1639.05" y="1414.2" font-size="17.5" text-anchor="middle">Acylcarnitine</text>
<text x="1288.7" y="1101.6" font-size="17.5" text-anchor="middle">Difference</text>
<text x="1288.7" y="1120.8" font-size="17.5" text-anchor="middle">1st v. 4th</text>
<text x="1288.7" y="1140" font-size="17.5" text-anchor="middle">M/I quartile</text>
<text x="1288.7" y="1159.2" font-size="17.5" text-anchor="middle">in signal</text>
<text x="1288.7" y="1178.4" font-size="17.5" text-anchor="middle">intensity</text>
<text x="1288.7" y="1197.6" font-size="17.5" text-anchor="middle">Δ(30-120min)</text>
</g>
</svg>
</body>
</html>
